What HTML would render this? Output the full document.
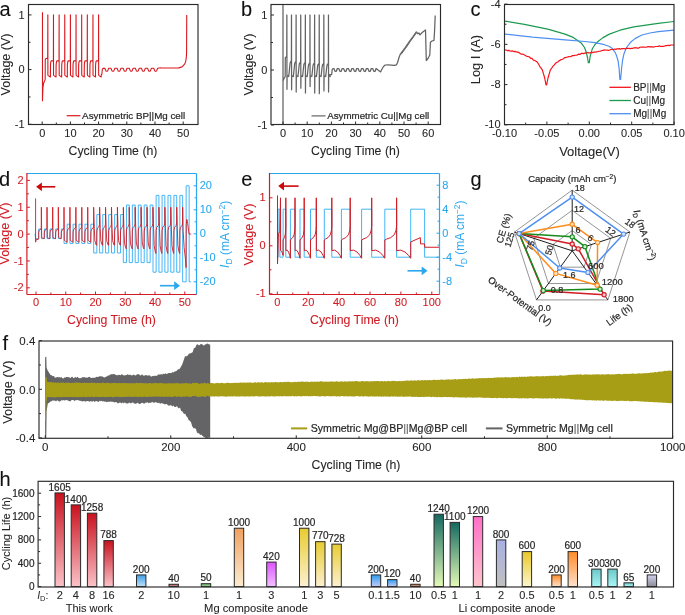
<!DOCTYPE html>
<html><head><meta charset="utf-8"><style>
html,body{margin:0;padding:0;background:#fff;}
body{width:685px;height:615px;overflow:hidden;}
svg{display:block;font-family:"Liberation Sans", sans-serif;will-change:transform;}
</style></head><body>
<svg width="685" height="615" viewBox="0 0 685 615">
<rect x="0" y="0" width="685" height="615" fill="#fff"/>
<path d="M42.48,12.16 L42.48,100.78 L42.91,87.65 L43.61,83.27 L44.74,80.54 L45.16,79.45 L45.25,60.3 L45.58,58.66 L47.7,58.11 L47.84,14.9 L47.9,75.07 L48.26,75.62 L50.38,76.98 L50.46,65.22 L50.72,62.49 L51.08,61.12 L51.65,60.85 L53.4,60.85 L53.48,14.9 L53.54,75.07 L53.9,75.62 L56.02,76.98 L56.1,65.22 L56.36,62.49 L56.72,61.12 L57.29,60.85 L59.04,60.85 L59.12,14.9 L59.18,75.07 L59.54,75.62 L61.66,76.98 L61.74,65.22 L62,62.49 L62.36,61.12 L62.93,60.85 L64.68,60.85 L64.76,14.9 L64.82,75.07 L65.18,75.62 L67.3,76.98 L67.38,65.22 L67.64,62.49 L68,61.12 L68.57,60.85 L70.32,60.85 L70.4,14.9 L70.46,75.07 L70.82,75.62 L72.94,76.98 L73.02,65.22 L73.28,62.49 L73.64,61.12 L74.21,60.85 L75.96,60.85 L76.04,14.9 L76.1,75.07 L76.46,75.62 L78.58,76.98 L78.66,65.22 L78.92,62.49 L79.28,61.12 L79.85,60.85 L81.6,60.85 L81.68,14.9 L81.74,75.07 L82.1,75.62 L84.22,76.98 L84.3,65.22 L84.56,62.49 L84.92,61.12 L85.49,60.85 L87.24,60.85 L87.32,14.9 L87.38,75.07 L87.74,75.62 L89.86,76.98 L89.94,65.22 L90.2,62.49 L90.56,61.12 L91.13,60.85 L92.88,60.85 L92.96,14.9 L93.02,75.07 L93.38,75.62 L95.5,76.98 L95.58,65.22 L95.84,62.49 L96.2,61.12 L96.77,60.85 L98.52,60.85 L98.6,14.9 L98.66,75.07 L99.02,75.62 L101.14,76.98 L101.3,74.6 L101.8,74.5 L102.3,69.5 L103,68.4 L104.8,68.3 L105.4,69.6 L105.9,70.9 L106.8,71.3 L107.7,70.9 L108.2,69.6 L108.8,68.3 L110.9,68.3 L111.5,69.6 L112,70.9 L112.9,71.3 L113.8,70.9 L114.3,69.6 L114.9,68.3 L117,68.3 L117.6,69.6 L118.1,70.9 L119,71.3 L119.9,70.9 L120.4,69.6 L121,68.3 L123.1,68.3 L123.7,69.6 L124.2,70.9 L125.1,71.3 L126,70.9 L126.5,69.6 L127.1,68.3 L129.2,68.3 L129.8,69.6 L130.3,70.9 L131.2,71.3 L132.1,70.9 L132.6,69.6 L133.2,68.3 L135.3,68.3 L135.9,69.6 L136.4,70.9 L137.3,71.3 L138.2,70.9 L138.7,69.6 L139.3,68.3 L141.4,68.3 L142,69.6 L142.5,70.9 L143.4,71.3 L144.3,70.9 L144.8,69.6 L145.4,68.3 L147.5,68.3 L148.1,69.6 L148.6,70.9 L149.5,71.3 L150.4,70.9 L150.9,69.6 L151.5,68.3 L153.7,68.3 L154.3,69.6 L154.8,70.9 L155.7,71.3 L156.6,70.9 L157.1,69.6 L157.7,68.3 L159.5,68 L160.6,67.9 L160.64,67.96 L166.28,67.96 L171.92,67.96 L178.69,67.85 L182.07,66.86 L184.61,64.13 L185.6,61.94 L186.3,57.57 L186.58,53.19 L186.73,14.9" fill="none" stroke="#d7191f" stroke-width="1.1" stroke-linejoin="round" />
<rect x="28.5" y="4.5" width="169.5" height="120" fill="none" stroke="#2a2a2a" stroke-width="1.15" />
<line x1="28.5" y1="124.3" x2="31.5" y2="124.3" stroke="#2a2a2a" stroke-width="1" />
<line x1="28.5" y1="96.95" x2="30.5" y2="96.95" stroke="#2a2a2a" stroke-width="1" />
<line x1="28.5" y1="69.6" x2="31.5" y2="69.6" stroke="#2a2a2a" stroke-width="1" />
<line x1="28.5" y1="42.25" x2="30.5" y2="42.25" stroke="#2a2a2a" stroke-width="1" />
<line x1="28.5" y1="14.9" x2="31.5" y2="14.9" stroke="#2a2a2a" stroke-width="1" />
<line x1="42.2" y1="124.5" x2="42.2" y2="121.5" stroke="#2a2a2a" stroke-width="1" />
<line x1="56.3" y1="124.5" x2="56.3" y2="122.5" stroke="#2a2a2a" stroke-width="1" />
<line x1="70.4" y1="124.5" x2="70.4" y2="121.5" stroke="#2a2a2a" stroke-width="1" />
<line x1="84.5" y1="124.5" x2="84.5" y2="122.5" stroke="#2a2a2a" stroke-width="1" />
<line x1="98.6" y1="124.5" x2="98.6" y2="121.5" stroke="#2a2a2a" stroke-width="1" />
<line x1="112.7" y1="124.5" x2="112.7" y2="122.5" stroke="#2a2a2a" stroke-width="1" />
<line x1="126.8" y1="124.5" x2="126.8" y2="121.5" stroke="#2a2a2a" stroke-width="1" />
<line x1="140.9" y1="124.5" x2="140.9" y2="122.5" stroke="#2a2a2a" stroke-width="1" />
<line x1="155" y1="124.5" x2="155" y2="121.5" stroke="#2a2a2a" stroke-width="1" />
<line x1="169.1" y1="124.5" x2="169.1" y2="122.5" stroke="#2a2a2a" stroke-width="1" />
<line x1="183.2" y1="124.5" x2="183.2" y2="121.5" stroke="#2a2a2a" stroke-width="1" />
<text x="24.6" y="18.5" font-size="11" text-anchor="end" fill="#262626" stroke="#262626" stroke-width="0.08" >1</text>
<text x="24.6" y="73.2" font-size="11" text-anchor="end" fill="#262626" stroke="#262626" stroke-width="0.08" >0</text>
<text x="24.6" y="127.9" font-size="11" text-anchor="end" fill="#262626" stroke="#262626" stroke-width="0.08" >-1</text>
<text x="42.2" y="137" font-size="11" text-anchor="middle" fill="#262626" stroke="#262626" stroke-width="0.08" >0</text>
<text x="70.4" y="137" font-size="11" text-anchor="middle" fill="#262626" stroke="#262626" stroke-width="0.08" >10</text>
<text x="98.6" y="137" font-size="11" text-anchor="middle" fill="#262626" stroke="#262626" stroke-width="0.08" >20</text>
<text x="126.8" y="137" font-size="11" text-anchor="middle" fill="#262626" stroke="#262626" stroke-width="0.08" >30</text>
<text x="155" y="137" font-size="11" text-anchor="middle" fill="#262626" stroke="#262626" stroke-width="0.08" >40</text>
<text x="183.2" y="137" font-size="11" text-anchor="middle" fill="#262626" stroke="#262626" stroke-width="0.08" >50</text>
<text x="113" y="155.3" font-size="12.3" text-anchor="middle" fill="#262626" stroke="#262626" stroke-width="0.08" >Cycling Time (h)</text>
<text x="9.8" y="64.5" font-size="12.5" text-anchor="middle" fill="#262626" stroke="#262626" stroke-width="0.08" transform="rotate(-90 9.8 64.5)" >Voltage (V)</text>
<line x1="66.7" y1="115.7" x2="80.4" y2="115.7" stroke="#d7191f" stroke-width="1.2" />
<text x="82.1" y="118.8" font-size="9.8" text-anchor="start" fill="#262626" stroke="#262626" stroke-width="0.2" >Asymmetric BP||Mg cell</text>
<text x="-0.5" y="16" font-size="20" text-anchor="start" fill="#111" stroke="#111" stroke-width="0.08" >a</text>
<clipPath id="cb"><rect x="271.0" y="4.5" width="169.5" height="120.0"/></clipPath>
<path d="M283,-1.5 L283,136 L283,81 L284.09,78.25 L285.18,76.6 L285.3,57.9 L286.15,56.8 L286.75,55.7 L286.87,15 L286.97,89.25 L287.11,75.5 L288.69,76.6 L289.41,70 L290.02,63.45 L290.5,62.05 L291.4,60.65 L291.49,15 L291.59,89.8 L291.74,75.5 L293.31,76.6 L294.04,70 L294.64,63.84 L295.12,62.52 L296.02,61.2 L296.12,15 L296.21,92 L296.36,75.5 L297.93,76.6 L298.66,70 L299.26,64.22 L299.75,62.99 L300.64,61.75 L300.74,15 L300.84,88.15 L300.98,75.5 L302.55,76.6 L303.28,70 L303.88,64.61 L304.37,63.45 L305.26,62.3 L305.36,15 L305.46,93.1 L305.6,75.5 L307.18,76.6 L307.9,70 L308.51,65 L308.99,63.92 L309.89,62.85 L309.98,15 L310.08,86.5 L310.23,75.5 L311.8,76.6 L312.52,70 L313.13,65 L313.61,63.92 L314.51,62.85 L314.61,15 L314.7,93.1 L314.85,75.5 L316.42,76.6 L317.15,70 L317.75,65.38 L318.24,64.39 L319.13,63.4 L319.23,15 L319.32,93.65 L319.47,75.5 L321.04,76.6 L321.77,70 L322.37,65.38 L322.86,64.39 L323.75,63.4 L323.85,15 L323.95,90.9 L324.09,75.5 L325.66,76.6 L326.39,70 L327,65.38 L327.48,64.39 L328.38,63.4 L328.47,15 L328.57,92 L328.71,75.5 L330.29,76.6 L329.46,74.67 L331.4,74.67 L331.7,74.4 L332.2,69.5 L333,68.6 L333.9,68.5 L334.5,70 L335,71.2 L335.9,71.5 L336.5,71 L336.9,69.5 L337.3,68.5 L338.75,68.5 L339.35,70 L339.85,71.2 L340.75,71.5 L341.35,71 L341.75,69.5 L342.15,68.5 L343.6,68.5 L344.2,70 L344.7,71.2 L345.6,71.5 L346.2,71 L346.6,69.5 L347,68.5 L348.45,68.5 L349.05,70 L349.55,71.2 L350.45,71.5 L351.05,71 L351.45,69.5 L351.85,68.5 L353.3,68.5 L353.9,70 L354.4,71.2 L355.3,71.5 L355.9,71 L356.3,69.5 L356.7,68.5 L358.15,68.5 L358.75,70 L359.25,71.2 L360.15,71.5 L360.75,71 L361.15,69.5 L361.55,68.5 L363,68.5 L363.6,70 L364.1,71.2 L365,71.5 L365.6,71 L366,69.5 L366.4,68.5 L367.85,68.5 L368.45,70 L368.95,71.2 L369.85,71.5 L370.45,71 L370.85,69.5 L371.25,68.5 L372.7,68.5 L373.3,70 L373.8,71.2 L374.7,71.5 L375.3,71 L375.7,69.5 L376.1,68.5 L380.6,71.9 L381.3,70.5 L382.2,68.7 L383.5,66.5 L385.2,65 L388,64.9 L394.4,65.4 L396.5,64.8 L397.6,62.5 L399,57.5 L400.5,53.8 L405,47.8 L410,40.5 L413,36.5 L416.3,31.8 L418,33.8 L419,33 L420,34.9 L422.5,32.3 L425.5,30 L426.3,60.5 L428,58.5 L429.8,55 L430.4,42.2 L432,41 L434,40.4 L434.6,30.6 L435.2,15.4" fill="none" stroke="#636363" stroke-width="1.25" stroke-linejoin="round" clip-path="url(#cb)"/>
<path d="M401,54.5 L405.5,48.5 L410.5,41.2 L416.5,32.8" fill="none" stroke="#636363" stroke-width="1.0" stroke-linejoin="round" clip-path="url(#cb)"/>
<rect x="271" y="4.5" width="169.5" height="120" fill="none" stroke="#2a2a2a" stroke-width="1.15" />
<line x1="271" y1="125" x2="274" y2="125" stroke="#2a2a2a" stroke-width="1" />
<line x1="271" y1="97.5" x2="273" y2="97.5" stroke="#2a2a2a" stroke-width="1" />
<line x1="271" y1="70" x2="274" y2="70" stroke="#2a2a2a" stroke-width="1" />
<line x1="271" y1="42.5" x2="273" y2="42.5" stroke="#2a2a2a" stroke-width="1" />
<line x1="271" y1="15" x2="274" y2="15" stroke="#2a2a2a" stroke-width="1" />
<line x1="283" y1="124.5" x2="283" y2="121.5" stroke="#2a2a2a" stroke-width="1" />
<line x1="295.1" y1="124.5" x2="295.1" y2="122.5" stroke="#2a2a2a" stroke-width="1" />
<line x1="307.2" y1="124.5" x2="307.2" y2="121.5" stroke="#2a2a2a" stroke-width="1" />
<line x1="319.3" y1="124.5" x2="319.3" y2="122.5" stroke="#2a2a2a" stroke-width="1" />
<line x1="331.4" y1="124.5" x2="331.4" y2="121.5" stroke="#2a2a2a" stroke-width="1" />
<line x1="343.5" y1="124.5" x2="343.5" y2="122.5" stroke="#2a2a2a" stroke-width="1" />
<line x1="355.6" y1="124.5" x2="355.6" y2="121.5" stroke="#2a2a2a" stroke-width="1" />
<line x1="367.7" y1="124.5" x2="367.7" y2="122.5" stroke="#2a2a2a" stroke-width="1" />
<line x1="379.8" y1="124.5" x2="379.8" y2="121.5" stroke="#2a2a2a" stroke-width="1" />
<line x1="391.9" y1="124.5" x2="391.9" y2="122.5" stroke="#2a2a2a" stroke-width="1" />
<line x1="404" y1="124.5" x2="404" y2="121.5" stroke="#2a2a2a" stroke-width="1" />
<line x1="416.1" y1="124.5" x2="416.1" y2="122.5" stroke="#2a2a2a" stroke-width="1" />
<line x1="428.2" y1="124.5" x2="428.2" y2="121.5" stroke="#2a2a2a" stroke-width="1" />
<text x="267.4" y="18.6" font-size="11" text-anchor="end" fill="#262626" stroke="#262626" stroke-width="0.08" >1</text>
<text x="267.4" y="73.6" font-size="11" text-anchor="end" fill="#262626" stroke="#262626" stroke-width="0.08" >0</text>
<text x="267.4" y="128.6" font-size="11" text-anchor="end" fill="#262626" stroke="#262626" stroke-width="0.08" >-1</text>
<text x="283" y="137" font-size="11" text-anchor="middle" fill="#262626" stroke="#262626" stroke-width="0.08" >0</text>
<text x="307.2" y="137" font-size="11" text-anchor="middle" fill="#262626" stroke="#262626" stroke-width="0.08" >10</text>
<text x="331.4" y="137" font-size="11" text-anchor="middle" fill="#262626" stroke="#262626" stroke-width="0.08" >20</text>
<text x="355.6" y="137" font-size="11" text-anchor="middle" fill="#262626" stroke="#262626" stroke-width="0.08" >30</text>
<text x="379.8" y="137" font-size="11" text-anchor="middle" fill="#262626" stroke="#262626" stroke-width="0.08" >40</text>
<text x="404" y="137" font-size="11" text-anchor="middle" fill="#262626" stroke="#262626" stroke-width="0.08" >50</text>
<text x="428.2" y="137" font-size="11" text-anchor="middle" fill="#262626" stroke="#262626" stroke-width="0.08" >60</text>
<text x="355.5" y="155.3" font-size="12.3" text-anchor="middle" fill="#262626" stroke="#262626" stroke-width="0.08" >Cycling Time (h)</text>
<text x="252.5" y="64.5" font-size="12.5" text-anchor="middle" fill="#262626" stroke="#262626" stroke-width="0.08" transform="rotate(-90 252.5 64.5)" >Voltage (V)</text>
<line x1="311.5" y1="115.9" x2="325.5" y2="115.9" stroke="#636363" stroke-width="1.2" />
<text x="327.2" y="119" font-size="9.75" text-anchor="start" fill="#262626" stroke="#262626" stroke-width="0.2" >Asymmetric Cu||Mg cell</text>
<text x="241" y="16" font-size="20" text-anchor="start" fill="#111" stroke="#111" stroke-width="0.08" >b</text>
<clipPath id="cc"><rect x="504.5" y="4.5" width="169.5" height="120.1"/></clipPath>
<path d="M504.9,21.1 L524.4,24.4 L548.8,29.3 L565,34.1 L573.2,37.4 L581.3,43.1 L584.5,47.5 L586.2,52 L587.6,58 L588.3,62.6 L589.3,62.6 L590.2,56.1 L592.3,48.8 L595,44.5 L598,41.5 L603,37.6 L609.4,34.1 L620,30.2 L633.8,26.8 L658.2,23.3 L674.1,21.5" fill="none" stroke="#1d9a4f" stroke-width="1.2" stroke-linejoin="round" clip-path="url(#cc)"/>
<path d="M504.9,34.1 L532.5,37.1 L565,39.8 L585,41.5 L594.8,42.6 L604.5,44.7 L609.5,46.5 L612.6,48.8 L615.2,52.5 L616.7,56.1 L618.2,61.5 L619.1,68.3 L619.9,79.5 L620.6,79.5 L621.6,68.3 L622.6,60 L624,53.7 L626.5,47.5 L630.5,42.3 L635,38.6 L641.9,35 L650,33 L658.2,31.7 L674.1,30.1" fill="none" stroke="#4f8ff2" stroke-width="1.2" stroke-linejoin="round" clip-path="url(#cc)"/>
<path d="M504.9,49.94 L506.17,50 L507.43,50.66 L508.7,50.35 L509.97,50.98 L511.23,51.03 L512.5,50.97 L513.77,51.58 L515.03,51.37 L516.3,51.94 L517.6,52.1 L518.9,52.61 L520.2,53.4 L521.5,54.25 L522.8,54.11 L524.1,54.69 L525.4,55.54 L526.7,56.32 L528,56.48 L529.3,56.81 L530.65,58.28 L532,58.39 L533.35,60.07 L534.7,60.51 L536.05,61.33 L537.4,62.26 L538.62,64.25 L539.85,66.53 L541.07,68.08 L542.3,69.9 L543.5,73.95 L544.7,78 L546,85 L546.6,85 L548,78 L550.4,69.9 L551.62,68.28 L552.85,66.36 L554.07,65.1 L555.3,63.53 L556.51,62.57 L557.72,62.02 L558.94,60.87 L560.15,60.15 L561.36,59.57 L562.58,59.29 L563.79,58.35 L565,57.53 L566.25,57.47 L567.51,57.04 L568.76,56.6 L570.02,56.73 L571.27,56.34 L572.52,55.62 L573.78,55.61 L575.03,55.26 L576.28,55.27 L577.54,54.83 L578.79,54.12 L580.05,54.44 L581.3,53.36 L582.55,53.47 L583.81,53.62 L585.06,52.93 L586.32,53.07 L587.57,52.52 L588.82,52.93 L590.08,52.86 L591.33,52.53 L592.58,52.65 L593.84,51.99 L595.09,52.18 L596.35,51.94 L597.6,51.77 L598.83,51.23 L600.07,51.14 L601.3,50.8 L602.5,50.29 L603.71,50.37 L604.91,49.74 L606.11,50.23 L607.32,50.09 L608.52,50.31 L609.73,50.07 L610.93,49.5 L612.13,49.5 L613.34,49.66 L614.54,48.99 L615.74,49.3 L616.95,48.95 L618.15,48.81 L619.36,48.67 L620.56,49.22 L621.76,48.56 L622.97,48.57 L624.17,48.61 L625.37,48.96 L626.58,48.16 L627.78,48.4 L628.99,48.4 L630.19,48.61 L631.39,48.47 L632.6,48.42 L633.8,47.8 L635.02,47.84 L636.24,47.7 L637.46,48.09 L638.68,48.07 L639.91,47.26 L641.13,47.2 L642.35,47.16 L643.57,47.08 L644.79,47.22 L646.01,47.23 L647.23,46.85 L648.45,46.54 L649.68,46.82 L650.9,46.69 L652.12,46.79 L653.34,47.05 L654.56,46.73 L655.78,46.49 L657,46.49 L658.22,46.46 L659.45,45.82 L660.67,46.49 L661.89,46.3 L663.11,46.3 L664.33,46.15 L665.55,45.7 L666.77,45.62 L667.99,45.27 L669.22,45.66 L670.44,45.06 L671.66,44.98 L672.88,45.02 L674.1,45.2" fill="none" stroke="#f5141a" stroke-width="1.2" stroke-linejoin="round" clip-path="url(#cc)"/>
<rect x="504.5" y="4.5" width="169.5" height="120.1" fill="none" stroke="#2a2a2a" stroke-width="1.15" />
<line x1="504.5" y1="4.1" x2="507.5" y2="4.1" stroke="#2a2a2a" stroke-width="1" />
<line x1="504.5" y1="24.22" x2="506.5" y2="24.22" stroke="#2a2a2a" stroke-width="1" />
<line x1="504.5" y1="44.34" x2="507.5" y2="44.34" stroke="#2a2a2a" stroke-width="1" />
<line x1="504.5" y1="64.46" x2="506.5" y2="64.46" stroke="#2a2a2a" stroke-width="1" />
<line x1="504.5" y1="84.58" x2="507.5" y2="84.58" stroke="#2a2a2a" stroke-width="1" />
<line x1="504.5" y1="104.7" x2="506.5" y2="104.7" stroke="#2a2a2a" stroke-width="1" />
<line x1="504.5" y1="124.82" x2="507.5" y2="124.82" stroke="#2a2a2a" stroke-width="1" />
<line x1="504.5" y1="124.6" x2="504.5" y2="121.6" stroke="#2a2a2a" stroke-width="1" />
<line x1="525.7" y1="124.6" x2="525.7" y2="122.6" stroke="#2a2a2a" stroke-width="1" />
<line x1="546.9" y1="124.6" x2="546.9" y2="121.6" stroke="#2a2a2a" stroke-width="1" />
<line x1="568.1" y1="124.6" x2="568.1" y2="122.6" stroke="#2a2a2a" stroke-width="1" />
<line x1="589.3" y1="124.6" x2="589.3" y2="121.6" stroke="#2a2a2a" stroke-width="1" />
<line x1="610.5" y1="124.6" x2="610.5" y2="122.6" stroke="#2a2a2a" stroke-width="1" />
<line x1="631.7" y1="124.6" x2="631.7" y2="121.6" stroke="#2a2a2a" stroke-width="1" />
<line x1="652.9" y1="124.6" x2="652.9" y2="122.6" stroke="#2a2a2a" stroke-width="1" />
<line x1="674.1" y1="124.6" x2="674.1" y2="121.6" stroke="#2a2a2a" stroke-width="1" />
<text x="500.6" y="7.7" font-size="11" text-anchor="end" fill="#262626" stroke="#262626" stroke-width="0.08" >-4</text>
<text x="500.6" y="47.94" font-size="11" text-anchor="end" fill="#262626" stroke="#262626" stroke-width="0.08" >-6</text>
<text x="500.6" y="88.18" font-size="11" text-anchor="end" fill="#262626" stroke="#262626" stroke-width="0.08" >-8</text>
<text x="500.6" y="128.42" font-size="11" text-anchor="end" fill="#262626" stroke="#262626" stroke-width="0.08" >-10</text>
<text x="504.5" y="137" font-size="11" text-anchor="middle" fill="#262626" stroke="#262626" stroke-width="0.08" >-0.10</text>
<text x="546.9" y="137" font-size="11" text-anchor="middle" fill="#262626" stroke="#262626" stroke-width="0.08" >-0.05</text>
<text x="589.3" y="137" font-size="11" text-anchor="middle" fill="#262626" stroke="#262626" stroke-width="0.08" >0.00</text>
<text x="631.7" y="137" font-size="11" text-anchor="middle" fill="#262626" stroke="#262626" stroke-width="0.08" >0.05</text>
<text x="674.1" y="137" font-size="11" text-anchor="middle" fill="#262626" stroke="#262626" stroke-width="0.08" >0.10</text>
<text x="589.5" y="155.6" font-size="13" text-anchor="middle" fill="#262626" stroke="#262626" stroke-width="0.08" >Voltage(V)</text>
<text x="480" y="59.6" font-size="12.8" text-anchor="middle" fill="#262626" stroke="#262626" stroke-width="0.08" transform="rotate(-90 480 59.6)" >Log I (A)</text>
<line x1="609.4" y1="87.3" x2="630.9" y2="87.3" stroke="#f5141a" stroke-width="1.3" />
<text x="633.2" y="90.9" font-size="10" text-anchor="start" fill="#262626" stroke="#262626" stroke-width="0.2" >BP<tspan fill="#8a8a8a">||</tspan>Mg</text>
<line x1="609.4" y1="100.5" x2="630.9" y2="100.5" stroke="#1d9a4f" stroke-width="1.3" />
<text x="633.2" y="104.1" font-size="10" text-anchor="start" fill="#262626" stroke="#262626" stroke-width="0.2" >Cu<tspan fill="#8a8a8a">||</tspan>Mg</text>
<line x1="609.4" y1="113.7" x2="630.9" y2="113.7" stroke="#4f8ff2" stroke-width="1.3" />
<text x="633.2" y="117.3" font-size="10" text-anchor="start" fill="#262626" stroke="#262626" stroke-width="0.2" >Mg<tspan fill="#8a8a8a">||</tspan>Mg</text>
<text x="470.5" y="16" font-size="20" text-anchor="start" fill="#111" stroke="#111" stroke-width="0.08" >c</text>
<clipPath id="cd"><rect x="26.9" y="173.5" width="169.6" height="121.0"/></clipPath>
<path d="M35,233.8 L35.7,238.6 L38.7,238.6 L38.7,229 L41.36,229 L41.36,238.6 L44.36,238.6 L44.36,229 L47.02,229 L47.02,238.6 L50.02,238.6 L50.02,229 L52.68,229 L52.68,238.6 L55.68,238.6 L55.68,229 L58.34,229 L58.34,238.6 L61.34,238.6 L61.34,229 L64,229 L64,243.4 L67.14,243.4 L67.14,224.2 L69.93,224.2 L69.93,243.4 L73.07,243.4 L73.07,224.2 L75.86,224.2 L75.86,243.4 L79,243.4 L79,224.2 L81.79,224.2 L81.79,243.4 L84.93,243.4 L84.93,224.2 L87.72,224.2 L87.72,243.4 L90.86,243.4 L90.86,224.2 L93.65,224.2 L93.7,253 L96.84,253 L96.84,214.6 L99.63,214.6 L99.63,253 L102.77,253 L102.77,214.6 L105.56,214.6 L105.56,253 L108.7,253 L108.7,214.6 L111.49,214.6 L111.49,253 L114.63,253 L114.63,214.6 L117.42,214.6 L117.42,253 L120.56,253 L120.56,214.6 L123.35,214.6 L123.3,262.6 L126.44,262.6 L126.44,205 L129.23,205 L129.23,262.6 L132.37,262.6 L132.37,205 L135.16,205 L135.16,262.6 L138.3,262.6 L138.3,205 L141.09,205 L141.09,262.6 L144.23,262.6 L144.23,205 L147.02,205 L147.02,262.6 L150.16,262.6 L150.16,205 L152.95,205 L153,272.2 L156.14,272.2 L156.14,195.4 L158.93,195.4 L158.93,272.2 L162.07,272.2 L162.07,195.4 L164.86,195.4 L164.86,272.2 L168,272.2 L168,195.4 L170.79,195.4 L170.79,272.2 L173.93,272.2 L173.93,195.4 L176.72,195.4 L176.72,272.2 L179.86,272.2 L179.86,195.4 L182.65,195.4 L182.65,281.8 L186.15,281.8 L186.15,185.8 L189.15,185.8 L189.15,281.8 L190.95,281.8" fill="none" stroke="#45b5f5" stroke-width="1.0" stroke-linejoin="round" clip-path="url(#cd)"/>
<path d="M35.6,198.39 L35.6,242.16 L36.2,239.47 L38.2,239.47 L38.7,238.93 L38.7,232.17 L39.3,230.23 L40.76,229.27 L41.26,227.82 L41.36,207.25 L41.66,237.52 L42.86,238.21 L44.16,238.66 L44.36,232.17 L44.96,230.23 L46.42,229.27 L46.92,227.82 L47.02,207.25 L47.32,237.52 L48.52,238.21 L49.82,238.66 L50.02,232.17 L50.62,230.23 L52.08,229.27 L52.58,227.82 L52.68,207.25 L52.98,237.52 L54.18,238.21 L55.48,238.66 L55.68,232.17 L56.28,230.23 L57.74,229.27 L58.24,227.82 L58.34,207.25 L58.64,237.52 L59.84,238.21 L61.14,238.66 L61.34,232.17 L61.94,230.23 L63.4,229.27 L63.9,227.82 L64,207.25 L64.3,240.14 L65.5,241.35 L66.94,242.16 L67.14,231.74 L67.74,229.37 L69.33,228.19 L69.83,226.42 L69.93,207.25 L70.23,240.14 L71.43,241.35 L72.87,242.16 L73.07,231.74 L73.67,229.37 L75.26,228.19 L75.76,226.42 L75.86,207.25 L76.16,240.14 L77.36,241.35 L78.8,242.16 L79,231.74 L79.6,229.37 L81.19,228.19 L81.69,226.42 L81.79,207.25 L82.09,240.14 L83.29,241.35 L84.73,242.16 L84.93,231.74 L85.53,229.37 L87.12,228.19 L87.62,226.42 L87.72,207.25 L88.02,240.14 L89.22,241.35 L90.66,242.16 L90.86,231.74 L91.46,229.37 L93.05,228.19 L93.55,226.42 L93.65,207.25 L94.3,228.73 L94.9,240.87 L95.9,244.25 L96.64,245.38 L96.84,231.09 L97.44,228.09 L99.03,226.58 L99.53,224.33 L99.63,207.25 L100.23,228.73 L100.83,240.87 L101.83,244.25 L102.57,245.38 L102.77,231.09 L103.37,228.09 L104.96,226.58 L105.46,224.33 L105.56,207.25 L106.16,228.73 L106.76,240.87 L107.76,244.25 L108.5,245.38 L108.7,231.09 L109.3,228.09 L110.89,226.58 L111.39,224.33 L111.49,207.25 L112.09,228.73 L112.69,240.87 L113.69,244.25 L114.43,245.38 L114.63,231.09 L115.23,228.09 L116.82,226.58 L117.32,224.33 L117.42,207.25 L118.02,228.73 L118.62,240.87 L119.62,244.25 L120.36,245.38 L120.56,231.09 L121.16,228.09 L122.75,226.58 L123.25,224.33 L123.35,207.25 L123.9,228.73 L124.5,242.96 L125.5,247.39 L126.24,248.87 L126.44,230.88 L127.04,227.66 L128.63,226.04 L129.13,223.63 L129.23,207.25 L129.83,228.73 L130.43,242.96 L131.43,247.39 L132.17,248.87 L132.37,230.88 L132.97,227.66 L134.56,226.04 L135.06,223.63 L135.16,207.25 L135.76,228.73 L136.36,242.96 L137.36,247.39 L138.1,248.87 L138.3,230.88 L138.9,227.66 L140.49,226.04 L140.99,223.63 L141.09,207.25 L141.69,228.73 L142.29,242.96 L143.29,247.39 L144.03,248.87 L144.23,230.88 L144.83,227.66 L146.42,226.04 L146.92,223.63 L147.02,207.25 L147.62,228.73 L148.22,242.96 L149.22,247.39 L149.96,248.87 L150.16,230.88 L150.76,227.66 L152.35,226.04 L152.85,223.63 L152.95,207.25 L153.6,228.73 L154.2,245.7 L155.2,251.5 L155.94,253.43 L156.14,230.66 L156.74,227.23 L158.33,225.51 L158.83,222.93 L158.93,207.25 L159.53,228.73 L160.13,245.7 L161.13,251.5 L161.87,253.43 L162.07,230.66 L162.67,227.23 L164.26,225.51 L164.76,222.93 L164.86,207.25 L165.46,228.73 L166.06,245.7 L167.06,251.5 L167.8,253.43 L168,230.66 L168.6,227.23 L170.19,225.51 L170.69,222.93 L170.79,207.25 L171.39,228.73 L171.99,245.7 L172.99,251.5 L173.73,253.43 L173.93,230.66 L174.53,227.23 L176.12,225.51 L176.62,222.93 L176.72,207.25 L177.32,228.73 L177.92,245.7 L178.92,251.5 L179.66,253.43 L179.86,230.66 L180.46,227.23 L182.05,225.51 L182.55,222.93 L182.65,207.25 L183.15,231.41 L184.15,247.53 L185.65,260.95 L186.05,267.66 L186.25,224.7 L186.85,219.33 L187.65,223.36 L188.65,231.41 L189.15,234.1 L191.15,234.1" fill="none" stroke="#d01c24" stroke-width="0.9" stroke-linejoin="round" clip-path="url(#cd)"/>
<line x1="26.9" y1="173.5" x2="196.5" y2="173.5" stroke="#2aa7ee" stroke-width="1.2" />
<line x1="196.5" y1="173.5" x2="196.5" y2="294.5" stroke="#2aa7ee" stroke-width="1.2" />
<line x1="26.9" y1="172.9" x2="26.9" y2="294.5" stroke="#d01c24" stroke-width="1.2" />
<line x1="26.9" y1="294.5" x2="196.5" y2="294.5" stroke="#d01c24" stroke-width="1.2" />
<line x1="26.9" y1="287.8" x2="29.9" y2="287.8" stroke="#d01c24" stroke-width="1" />
<line x1="26.9" y1="274.38" x2="28.9" y2="274.38" stroke="#d01c24" stroke-width="1" />
<line x1="26.9" y1="260.95" x2="29.9" y2="260.95" stroke="#d01c24" stroke-width="1" />
<line x1="26.9" y1="247.53" x2="28.9" y2="247.53" stroke="#d01c24" stroke-width="1" />
<line x1="26.9" y1="234.1" x2="29.9" y2="234.1" stroke="#d01c24" stroke-width="1" />
<line x1="26.9" y1="220.67" x2="28.9" y2="220.67" stroke="#d01c24" stroke-width="1" />
<line x1="26.9" y1="207.25" x2="29.9" y2="207.25" stroke="#d01c24" stroke-width="1" />
<line x1="26.9" y1="193.82" x2="28.9" y2="193.82" stroke="#d01c24" stroke-width="1" />
<line x1="26.9" y1="180.4" x2="29.9" y2="180.4" stroke="#d01c24" stroke-width="1" />
<line x1="36" y1="294.5" x2="36" y2="291.5" stroke="#d01c24" stroke-width="1" />
<line x1="50.88" y1="294.5" x2="50.88" y2="292.5" stroke="#d01c24" stroke-width="1" />
<line x1="65.75" y1="294.5" x2="65.75" y2="291.5" stroke="#d01c24" stroke-width="1" />
<line x1="80.62" y1="294.5" x2="80.62" y2="292.5" stroke="#d01c24" stroke-width="1" />
<line x1="95.5" y1="294.5" x2="95.5" y2="291.5" stroke="#d01c24" stroke-width="1" />
<line x1="110.38" y1="294.5" x2="110.38" y2="292.5" stroke="#d01c24" stroke-width="1" />
<line x1="125.25" y1="294.5" x2="125.25" y2="291.5" stroke="#d01c24" stroke-width="1" />
<line x1="140.12" y1="294.5" x2="140.12" y2="292.5" stroke="#d01c24" stroke-width="1" />
<line x1="155" y1="294.5" x2="155" y2="291.5" stroke="#d01c24" stroke-width="1" />
<line x1="169.88" y1="294.5" x2="169.88" y2="292.5" stroke="#d01c24" stroke-width="1" />
<line x1="184.75" y1="294.5" x2="184.75" y2="291.5" stroke="#d01c24" stroke-width="1" />
<line x1="196.5" y1="281.8" x2="193.5" y2="281.8" stroke="#2aa7ee" stroke-width="1" />
<line x1="196.5" y1="269.8" x2="194.5" y2="269.8" stroke="#2aa7ee" stroke-width="1" />
<line x1="196.5" y1="257.8" x2="193.5" y2="257.8" stroke="#2aa7ee" stroke-width="1" />
<line x1="196.5" y1="245.8" x2="194.5" y2="245.8" stroke="#2aa7ee" stroke-width="1" />
<line x1="196.5" y1="233.8" x2="193.5" y2="233.8" stroke="#2aa7ee" stroke-width="1" />
<line x1="196.5" y1="221.8" x2="194.5" y2="221.8" stroke="#2aa7ee" stroke-width="1" />
<line x1="196.5" y1="209.8" x2="193.5" y2="209.8" stroke="#2aa7ee" stroke-width="1" />
<line x1="196.5" y1="197.8" x2="194.5" y2="197.8" stroke="#2aa7ee" stroke-width="1" />
<line x1="196.5" y1="185.8" x2="193.5" y2="185.8" stroke="#2aa7ee" stroke-width="1" />
<text x="23.6" y="184" font-size="11" text-anchor="end" fill="#d01c24" stroke="#d01c24" stroke-width="0.08" >2</text>
<text x="23.6" y="210.85" font-size="11" text-anchor="end" fill="#d01c24" stroke="#d01c24" stroke-width="0.08" >1</text>
<text x="23.6" y="237.7" font-size="11" text-anchor="end" fill="#d01c24" stroke="#d01c24" stroke-width="0.08" >0</text>
<text x="23.6" y="264.55" font-size="11" text-anchor="end" fill="#d01c24" stroke="#d01c24" stroke-width="0.08" >-1</text>
<text x="23.6" y="291.4" font-size="11" text-anchor="end" fill="#d01c24" stroke="#d01c24" stroke-width="0.08" >-2</text>
<text x="36" y="305.7" font-size="11" text-anchor="middle" fill="#d01c24" stroke="#d01c24" stroke-width="0.08" >0</text>
<text x="65.75" y="305.7" font-size="11" text-anchor="middle" fill="#d01c24" stroke="#d01c24" stroke-width="0.08" >10</text>
<text x="95.5" y="305.7" font-size="11" text-anchor="middle" fill="#d01c24" stroke="#d01c24" stroke-width="0.08" >20</text>
<text x="125.25" y="305.7" font-size="11" text-anchor="middle" fill="#d01c24" stroke="#d01c24" stroke-width="0.08" >30</text>
<text x="155" y="305.7" font-size="11" text-anchor="middle" fill="#d01c24" stroke="#d01c24" stroke-width="0.08" >40</text>
<text x="184.75" y="305.7" font-size="11" text-anchor="middle" fill="#d01c24" stroke="#d01c24" stroke-width="0.08" >50</text>
<text x="199.7" y="189.4" font-size="11" text-anchor="start" fill="#2aa7ee" stroke="#2aa7ee" stroke-width="0.08" >20</text>
<text x="199.7" y="213.4" font-size="11" text-anchor="start" fill="#2aa7ee" stroke="#2aa7ee" stroke-width="0.08" >10</text>
<text x="199.7" y="237.4" font-size="11" text-anchor="start" fill="#2aa7ee" stroke="#2aa7ee" stroke-width="0.08" >0</text>
<text x="199.7" y="261.4" font-size="11" text-anchor="start" fill="#2aa7ee" stroke="#2aa7ee" stroke-width="0.08" >-10</text>
<text x="199.7" y="285.4" font-size="11" text-anchor="start" fill="#2aa7ee" stroke="#2aa7ee" stroke-width="0.08" >-20</text>
<text x="111.5" y="324.3" font-size="12.3" text-anchor="middle" fill="#d01c24" stroke="#d01c24" stroke-width="0.08" >Cycling Time (h)</text>
<text x="9.2" y="233.6" font-size="12.5" text-anchor="middle" fill="#d01c24" stroke="#d01c24" stroke-width="0.08" transform="rotate(-90 9.2 233.6)" >Voltage (V)</text>
<text transform="translate(229.3 234.3) rotate(-90)" font-size="12" text-anchor="middle" fill="#2aa7ee"><tspan font-style="italic">I</tspan><tspan font-size="8.5" dy="2.5">D</tspan><tspan dy="-2.5"> (mA cm</tspan><tspan font-size="8.5" dy="-4.5">−2</tspan><tspan dy="4.5">)</tspan></text>
<line x1="41" y1="186.8" x2="55.3" y2="186.8" stroke="#cc0a0a" stroke-width="1.6" />
<path d="M36.1,186.8 L41.9,182.4 L41.9,191.2Z" fill="#cc0a0a" stroke="none" />
<line x1="160" y1="285.7" x2="175" y2="285.7" stroke="#2aa7ee" stroke-width="1.6" />
<path d="M180,285.7 L174.2,281.3 L174.2,290.1Z" fill="#2aa7ee" stroke="none" />
<text x="-1" y="185.5" font-size="20" text-anchor="start" fill="#111" stroke="#111" stroke-width="0.08" >d</text>
<clipPath id="ce"><rect x="269.5" y="173.5" width="170.0" height="121.0"/></clipPath>
<path d="M276.8,257.2 L278.1,257.2 L278.1,209.2 L279.9,209.2 L279.9,257.2 L283.1,257.2 L283.1,209.2 L285.8,209.2 L285.8,257.2 L290.4,257.2 L290.4,209.2 L295,209.2 L295,257.2 L300,257.2 L300,209.2 L304.2,209.2 L304.2,257.2 L310.5,257.2 L310.5,209.2 L316.3,209.2 L316.3,257.2 L324.3,257.2 L324.3,209.2 L331.8,209.2 L331.8,257.2 L341.4,257.2 L341.4,209.2 L350.2,209.2 L350.2,257.2 L361.6,257.2 L361.6,209.2 L371.7,209.2 L371.7,257.2 L384.8,257.2 L384.8,209.2 L396.6,209.2 L396.6,257.2 L410.7,257.2 L410.7,209.2 L424.6,209.2 L424.6,257.2 L439.5,257.2" fill="none" stroke="#45b5f5" stroke-width="1.0" stroke-linejoin="round" clip-path="url(#ce)"/>
<path d="M277.5,195.4 L277.5,264.04 L277.8,255.4 L278.1,243.4 L278.4,233.8 L279.9,231.4 L280.5,197.8 L280.6,250.6 L281.8,251.56 L283.1,255.4 L283.1,240.04 L283.5,239.08 L284.45,237.64 L285.26,234.76 L285.67,230.44 L285.8,225.64 L285.8,197.8 L285.9,250.6 L287.18,250.12 L288.56,252.04 L289.71,255.4 L290.4,258.28 L290.4,240.04 L291.09,239.08 L292.7,237.64 L294.08,234.76 L294.77,230.44 L295,225.64 L295,197.8 L295.1,250.6 L296.5,250.12 L298,252.04 L299.25,255.4 L300,258.28 L300,240.04 L300.63,239.08 L302.1,237.64 L303.36,234.76 L303.99,230.44 L304.2,225.64 L304.2,197.8 L304.3,250.6 L306.09,250.12 L307.98,252.04 L309.56,255.4 L310.5,258.28 L310.5,240.04 L311.37,239.08 L313.4,237.64 L315.14,234.76 L316.01,230.44 L316.3,225.64 L316.3,197.8 L316.4,250.6 L318.7,250.12 L321.1,252.04 L323.1,255.4 L324.3,258.28 L324.3,240.04 L325.43,239.08 L328.05,237.64 L330.3,234.76 L331.43,230.44 L331.8,225.64 L331.8,197.8 L331.9,250.6 L334.68,250.12 L337.56,252.04 L339.96,255.4 L341.4,258.28 L341.4,240.04 L342.72,239.08 L345.8,237.64 L348.44,234.76 L349.76,230.44 L350.2,225.64 L350.2,197.8 L350.3,250.6 L353.62,250.12 L357.04,252.04 L359.89,255.4 L361.6,258.28 L361.6,240.04 L363.12,239.08 L366.65,237.64 L369.68,234.76 L371.19,230.44 L371.7,225.64 L371.7,197.8 L371.8,250.6 L375.63,250.12 L379.56,252.04 L382.84,255.4 L384.8,258.28 L384.8,240.04 L386.57,239.08 L390.7,237.64 L394.24,234.76 L396.01,230.44 L396.6,225.64 L396.6,197.8 L396.7,250.6 L400.83,250.12 L405.06,252.04 L408.58,255.4 L410.7,258.28 L410.7,241.96 L420.3,237.64 L420.5,243.88 L424.6,243.88 L424.7,247.24 L439.5,247.24" fill="none" stroke="#d01c24" stroke-width="1.0" stroke-linejoin="round" clip-path="url(#ce)"/>
<line x1="269.5" y1="173.5" x2="439.5" y2="173.5" stroke="#2aa7ee" stroke-width="1.2" />
<line x1="439.5" y1="173.5" x2="439.5" y2="294.5" stroke="#2aa7ee" stroke-width="1.2" />
<line x1="269.5" y1="172.9" x2="269.5" y2="294.5" stroke="#d01c24" stroke-width="1.2" />
<line x1="269.5" y1="294.5" x2="439.5" y2="294.5" stroke="#d01c24" stroke-width="1.2" />
<line x1="269.5" y1="293.8" x2="272.5" y2="293.8" stroke="#d01c24" stroke-width="1" />
<line x1="269.5" y1="269.8" x2="271.5" y2="269.8" stroke="#d01c24" stroke-width="1" />
<line x1="269.5" y1="245.8" x2="272.5" y2="245.8" stroke="#d01c24" stroke-width="1" />
<line x1="269.5" y1="221.8" x2="271.5" y2="221.8" stroke="#d01c24" stroke-width="1" />
<line x1="269.5" y1="197.8" x2="272.5" y2="197.8" stroke="#d01c24" stroke-width="1" />
<line x1="277.3" y1="294.5" x2="277.3" y2="291.5" stroke="#d01c24" stroke-width="1" />
<line x1="292.75" y1="294.5" x2="292.75" y2="292.5" stroke="#d01c24" stroke-width="1" />
<line x1="308.2" y1="294.5" x2="308.2" y2="291.5" stroke="#d01c24" stroke-width="1" />
<line x1="323.65" y1="294.5" x2="323.65" y2="292.5" stroke="#d01c24" stroke-width="1" />
<line x1="339.1" y1="294.5" x2="339.1" y2="291.5" stroke="#d01c24" stroke-width="1" />
<line x1="354.55" y1="294.5" x2="354.55" y2="292.5" stroke="#d01c24" stroke-width="1" />
<line x1="370" y1="294.5" x2="370" y2="291.5" stroke="#d01c24" stroke-width="1" />
<line x1="385.45" y1="294.5" x2="385.45" y2="292.5" stroke="#d01c24" stroke-width="1" />
<line x1="400.9" y1="294.5" x2="400.9" y2="291.5" stroke="#d01c24" stroke-width="1" />
<line x1="416.35" y1="294.5" x2="416.35" y2="292.5" stroke="#d01c24" stroke-width="1" />
<line x1="431.8" y1="294.5" x2="431.8" y2="291.5" stroke="#d01c24" stroke-width="1" />
<line x1="439.5" y1="281.2" x2="436.5" y2="281.2" stroke="#2aa7ee" stroke-width="1" />
<line x1="439.5" y1="269.2" x2="437.5" y2="269.2" stroke="#2aa7ee" stroke-width="1" />
<line x1="439.5" y1="257.2" x2="436.5" y2="257.2" stroke="#2aa7ee" stroke-width="1" />
<line x1="439.5" y1="245.2" x2="437.5" y2="245.2" stroke="#2aa7ee" stroke-width="1" />
<line x1="439.5" y1="233.2" x2="436.5" y2="233.2" stroke="#2aa7ee" stroke-width="1" />
<line x1="439.5" y1="221.2" x2="437.5" y2="221.2" stroke="#2aa7ee" stroke-width="1" />
<line x1="439.5" y1="209.2" x2="436.5" y2="209.2" stroke="#2aa7ee" stroke-width="1" />
<line x1="439.5" y1="197.2" x2="437.5" y2="197.2" stroke="#2aa7ee" stroke-width="1" />
<line x1="439.5" y1="185.2" x2="436.5" y2="185.2" stroke="#2aa7ee" stroke-width="1" />
<text x="265.7" y="201.4" font-size="11" text-anchor="end" fill="#d01c24" stroke="#d01c24" stroke-width="0.08" >1</text>
<text x="265.7" y="249.4" font-size="11" text-anchor="end" fill="#d01c24" stroke="#d01c24" stroke-width="0.08" >0</text>
<text x="265.7" y="297.4" font-size="11" text-anchor="end" fill="#d01c24" stroke="#d01c24" stroke-width="0.08" >-1</text>
<text x="277.3" y="305.7" font-size="11" text-anchor="middle" fill="#d01c24" stroke="#d01c24" stroke-width="0.08" >0</text>
<text x="308.2" y="305.7" font-size="11" text-anchor="middle" fill="#d01c24" stroke="#d01c24" stroke-width="0.08" >20</text>
<text x="339.1" y="305.7" font-size="11" text-anchor="middle" fill="#d01c24" stroke="#d01c24" stroke-width="0.08" >40</text>
<text x="370" y="305.7" font-size="11" text-anchor="middle" fill="#d01c24" stroke="#d01c24" stroke-width="0.08" >60</text>
<text x="400.9" y="305.7" font-size="11" text-anchor="middle" fill="#d01c24" stroke="#d01c24" stroke-width="0.08" >80</text>
<text x="431.8" y="305.7" font-size="11" text-anchor="middle" fill="#d01c24" stroke="#d01c24" stroke-width="0.08" >100</text>
<text x="442.3" y="188.8" font-size="11" text-anchor="start" fill="#2aa7ee" stroke="#2aa7ee" stroke-width="0.08" >8</text>
<text x="442.3" y="212.8" font-size="11" text-anchor="start" fill="#2aa7ee" stroke="#2aa7ee" stroke-width="0.08" >4</text>
<text x="442.3" y="236.8" font-size="11" text-anchor="start" fill="#2aa7ee" stroke="#2aa7ee" stroke-width="0.08" >0</text>
<text x="442.3" y="260.8" font-size="11" text-anchor="start" fill="#2aa7ee" stroke="#2aa7ee" stroke-width="0.08" >-4</text>
<text x="442.3" y="284.8" font-size="11" text-anchor="start" fill="#2aa7ee" stroke="#2aa7ee" stroke-width="0.08" >-8</text>
<text x="354.5" y="324.3" font-size="12.3" text-anchor="middle" fill="#d01c24" stroke="#d01c24" stroke-width="0.08" >Cycling Time (h)</text>
<text x="253.5" y="234.6" font-size="12.5" text-anchor="middle" fill="#d01c24" stroke="#d01c24" stroke-width="0.08" transform="rotate(-90 253.5 234.6)" >Voltage (V)</text>
<text transform="translate(464.2 234.0) rotate(-90)" font-size="12" text-anchor="middle" fill="#2aa7ee"><tspan font-style="italic">I</tspan><tspan font-size="8.5" dy="2.5">D</tspan><tspan dy="-2.5"> (mA cm</tspan><tspan font-size="8.5" dy="-4.5">−2</tspan><tspan dy="4.5">)</tspan></text>
<line x1="283" y1="186.1" x2="298.6" y2="186.1" stroke="#cc0a0a" stroke-width="1.6" />
<path d="M278.2,186.1 L284,181.7 L284,190.5Z" fill="#cc0a0a" stroke="none" />
<line x1="407.5" y1="270.8" x2="422.5" y2="270.8" stroke="#2aa7ee" stroke-width="1.6" />
<path d="M427.5,270.8 L421.7,266.4 L421.7,275.2Z" fill="#2aa7ee" stroke="none" />
<text x="241.3" y="185.5" font-size="20" text-anchor="start" fill="#111" stroke="#111" stroke-width="0.08" >e</text>
<path d="M572.2,230.57 L591.44,244.55 L584.09,267.17 L560.31,267.17 L552.96,244.55Z" fill="none" stroke="#7a7a7a" stroke-width="0.8"/>
<path d="M572.2,210.33 L610.69,238.3 L595.99,283.54 L548.41,283.54 L533.71,238.3Z" fill="none" stroke="#7a7a7a" stroke-width="0.8"/>
<path d="M572.2,190.1 L629.93,232.04 L607.88,299.91 L536.52,299.91 L514.47,232.04Z" fill="none" stroke="#7a7a7a" stroke-width="0.8"/>
<line x1="572.2" y1="250.8" x2="572.2" y2="190.1" stroke="#1e1e1e" stroke-width="1.0" />
<line x1="572.2" y1="250.8" x2="629.93" y2="232.04" stroke="#1e1e1e" stroke-width="1.0" />
<line x1="572.2" y1="250.8" x2="607.88" y2="299.91" stroke="#1e1e1e" stroke-width="1.0" />
<line x1="572.2" y1="250.8" x2="536.52" y2="299.91" stroke="#1e1e1e" stroke-width="1.0" />
<line x1="572.2" y1="250.8" x2="514.47" y2="232.04" stroke="#1e1e1e" stroke-width="1.0" />
<path d="M572.2,244 L578.26,248.83 L604.13,294.75 L542.94,291.07 L519.09,233.54Z" fill="none" stroke="#d01c24" stroke-width="1.5" stroke-linejoin="round"/>
<path d="M572.2,236.84 L584.9,246.67 L600.03,289.1 L543.3,290.58 L519.09,233.54Z" fill="none" stroke="#138a1a" stroke-width="1.5" stroke-linejoin="round"/>
<path d="M572.2,224.27 L597.6,242.55 L597.17,285.18 L555.79,273.39 L519.09,233.54Z" fill="none" stroke="#ff8c1a" stroke-width="1.5" stroke-linejoin="round"/>
<path d="M572.2,197.08 L623.58,234.11 L587.9,272.41 L559.71,267.99 L519.09,233.54Z" fill="none" stroke="#4f8ff2" stroke-width="1.5" stroke-linejoin="round"/>
<circle cx="572.2" cy="244" r="2.1" fill="#f8cccc" stroke="#d01c24" stroke-width="1.1"/>
<circle cx="578.26" cy="248.83" r="2.1" fill="#f8cccc" stroke="#d01c24" stroke-width="1.1"/>
<circle cx="604.13" cy="294.75" r="2.1" fill="#f8cccc" stroke="#d01c24" stroke-width="1.1"/>
<circle cx="542.94" cy="291.07" r="2.1" fill="#f8cccc" stroke="#d01c24" stroke-width="1.1"/>
<circle cx="519.09" cy="233.54" r="2.1" fill="#f8cccc" stroke="#d01c24" stroke-width="1.1"/>
<circle cx="572.2" cy="236.84" r="2.1" fill="#c8ecc8" stroke="#138a1a" stroke-width="1.1"/>
<circle cx="584.9" cy="246.67" r="2.1" fill="#c8ecc8" stroke="#138a1a" stroke-width="1.1"/>
<circle cx="600.03" cy="289.1" r="2.1" fill="#c8ecc8" stroke="#138a1a" stroke-width="1.1"/>
<circle cx="543.3" cy="290.58" r="2.1" fill="#c8ecc8" stroke="#138a1a" stroke-width="1.1"/>
<circle cx="519.09" cy="233.54" r="2.1" fill="#c8ecc8" stroke="#138a1a" stroke-width="1.1"/>
<circle cx="572.2" cy="224.27" r="2.1" fill="#ffe4c8" stroke="#ff8c1a" stroke-width="1.1"/>
<circle cx="597.6" cy="242.55" r="2.1" fill="#ffe4c8" stroke="#ff8c1a" stroke-width="1.1"/>
<circle cx="597.17" cy="285.18" r="2.1" fill="#ffe4c8" stroke="#ff8c1a" stroke-width="1.1"/>
<circle cx="555.79" cy="273.39" r="2.1" fill="#ffe4c8" stroke="#ff8c1a" stroke-width="1.1"/>
<circle cx="519.09" cy="233.54" r="2.1" fill="#ffe4c8" stroke="#ff8c1a" stroke-width="1.1"/>
<circle cx="572.2" cy="197.08" r="2.1" fill="#d8e6fd" stroke="#4f8ff2" stroke-width="1.1"/>
<circle cx="623.58" cy="234.11" r="2.1" fill="#d8e6fd" stroke="#4f8ff2" stroke-width="1.1"/>
<circle cx="587.9" cy="272.41" r="2.1" fill="#d8e6fd" stroke="#4f8ff2" stroke-width="1.1"/>
<circle cx="559.71" cy="267.99" r="2.1" fill="#d8e6fd" stroke="#4f8ff2" stroke-width="1.1"/>
<circle cx="519.09" cy="233.54" r="2.1" fill="#d8e6fd" stroke="#4f8ff2" stroke-width="1.1"/>
<text transform="translate(572.3 178.8) rotate(0)" dy="0.35em" font-size="9.5" text-anchor="middle" fill="#262626" stroke="#262626" stroke-width="0.2">Capacity (mAh cm<tspan font-size="6.5" dy="-3.5">−2</tspan><tspan dy="3.5">)</tspan></text>
<text transform="translate(579.8 188) rotate(0)" dy="0.35em" font-size="9" text-anchor="middle" fill="#262626" stroke="#262626" stroke-width="0.2">18</text>
<text transform="translate(579 208.9) rotate(0)" dy="0.35em" font-size="9" text-anchor="middle" fill="#262626" stroke="#262626" stroke-width="0.2">12</text>
<text transform="translate(578 230) rotate(0)" dy="0.35em" font-size="9" text-anchor="middle" fill="#262626" stroke="#262626" stroke-width="0.2">6</text>
<text transform="translate(630.2 223.3) rotate(36)" dy="0.35em" font-size="9" text-anchor="middle" fill="#262626" stroke="#262626" stroke-width="0.2">18</text>
<text transform="translate(610.6 231.5) rotate(36)" dy="0.35em" font-size="9" text-anchor="middle" fill="#262626" stroke="#262626" stroke-width="0.2">12</text>
<text transform="translate(590.7 237.9) rotate(36)" dy="0.35em" font-size="9" text-anchor="middle" fill="#262626" stroke="#262626" stroke-width="0.2">6</text>
<text transform="translate(644.8 235) rotate(72)" dy="0.35em" font-size="9.5" text-anchor="middle" fill="#262626" stroke="#262626" stroke-width="0.2"><tspan font-style="italic">I</tspan><tspan font-size="6.5" dy="2">D</tspan><tspan dy="-2"> (mA cm</tspan><tspan font-size="6.5" dy="-3.5">−2</tspan><tspan dy="3.5">)</tspan></text>
<text transform="translate(595.8 265.4) rotate(0)" dy="0.35em" font-size="9.5" text-anchor="middle" fill="#262626" stroke="#262626" stroke-width="0.2">600</text>
<text transform="translate(601.7 281.7) rotate(0)" dy="0.35em" font-size="9.5" text-anchor="start" fill="#262626" stroke="#262626" stroke-width="0.2">1200</text>
<text transform="translate(612.7 298.6) rotate(0)" dy="0.35em" font-size="9.5" text-anchor="start" fill="#262626" stroke="#262626" stroke-width="0.2">1800</text>
<text transform="translate(619.2 314.8) rotate(-36)" dy="0.35em" font-size="9.5" text-anchor="middle" fill="#262626" stroke="#262626" stroke-width="0.2">Life (h)</text>
<text transform="translate(569.3 275) rotate(0)" dy="0.35em" font-size="9" text-anchor="middle" fill="#262626" stroke="#262626" stroke-width="0.2">1.6</text>
<text transform="translate(557 289.6) rotate(0)" dy="0.35em" font-size="9" text-anchor="middle" fill="#262626" stroke="#262626" stroke-width="0.2">0.8</text>
<text transform="translate(544.6 307.8) rotate(0)" dy="0.35em" font-size="9" text-anchor="middle" fill="#262626" stroke="#262626" stroke-width="0.2">0.0</text>
<text transform="translate(520 301) rotate(36)" dy="0.35em" font-size="9.5" text-anchor="middle" fill="#262626" stroke="#262626" stroke-width="0.2">Over-Potential (V)</text>
<text transform="translate(549.2 250) rotate(-72)" dy="0.35em" font-size="9" text-anchor="middle" fill="#262626" stroke="#262626" stroke-width="0.2">50</text>
<text transform="translate(530.6 245.5) rotate(-72)" dy="0.35em" font-size="9" text-anchor="middle" fill="#262626" stroke="#262626" stroke-width="0.2">75</text>
<text transform="translate(509.6 239.7) rotate(-72)" dy="0.35em" font-size="9" text-anchor="middle" fill="#262626" stroke="#262626" stroke-width="0.2">125</text>
<text transform="translate(503.7 228.3) rotate(-72)" dy="0.35em" font-size="9.5" text-anchor="middle" fill="#262626" stroke="#262626" stroke-width="0.2">CE (%)</text>
<text x="470.5" y="185.5" font-size="20" text-anchor="start" fill="#111" stroke="#111" stroke-width="0.08" >g</text>
<clipPath id="cf"><rect x="39.0" y="341.0" width="633.6" height="97.30000000000001"/></clipPath>
<path d="M45.1,437.8 L45.1,357.3 L46.3,356.76 L46.6,367.74 L47.8,370.78 L49.15,372.7 L50.5,374.94 L51.62,375.29 L52.75,376.13 L53.88,376.02 L55,377.8 L56.13,377.52 L57.27,376.9 L58.4,377.2 L59.4,377.36 L60.4,377.38 L61.4,377 L62.4,378.16 L63.4,378.39 L64.4,377.55 L65.4,377.57 L66.4,376.94 L67.4,376.96 L68.4,377.35 L69.4,377.22 L70.4,378.13 L71.4,377.06 L72.4,376.84 L73.4,378.32 L74.4,377.65 L75.4,377.03 L76.4,377.67 L77.4,376.84 L78.4,377.64 L79.4,378.37 L80.41,378.15 L81.42,377.85 L82.43,377.13 L83.45,377.26 L84.46,376.91 L85.47,377.85 L86.48,377.44 L87.49,377.8 L88.5,377.05 L89.52,376.85 L90.53,377.76 L91.54,378.01 L92.55,377.76 L93.56,377.66 L94.57,377.65 L95.58,377.49 L96.6,376.64 L97.61,377.07 L98.62,376.78 L99.63,376.23 L100.64,376.2 L101.65,376.57 L102.67,376.51 L103.68,377.17 L104.69,377.56 L105.7,376.72 L106.85,376.5 L108,375.58 L109.12,375.49 L110.24,374.5 L111.36,374.23 L112.48,374.2 L113.6,374.11 L114.62,374.14 L115.65,374.82 L116.67,375.28 L117.7,375.19 L118.72,374.63 L119.75,374.92 L120.77,375.17 L121.8,374.04 L122.83,374.97 L123.85,375.38 L124.88,375.19 L125.9,375.15 L126.92,374.73 L127.95,374.26 L128.97,375.25 L130,374.53 L131.01,375.29 L132.01,375.57 L133.02,374.65 L134.03,374.67 L135.03,375.55 L136.04,375.2 L137.05,374.32 L138.05,374.26 L139.06,374.3 L140.07,375.51 L141.07,375.36 L142.08,374.31 L143.09,375.41 L144.09,375.66 L145.1,375.15 L146.32,374.99 L147.55,375.63 L148.78,375.28 L150,375.42 L151,376.81 L152,376.16 L153,375.82 L154,376.33 L155,375.39 L156,375.95 L157,375.74 L158,374.62 L159,374.54 L160,374.47 L161.13,374.2 L162.26,374.57 L163.39,373.86 L164.51,373.93 L165.64,373.28 L166.77,374.34 L167.9,373.27 L169.01,373.1 L170.12,372.96 L171.24,373.13 L172.35,372.02 L173.46,372.48 L174.58,371.48 L175.69,371.19 L176.8,370.84 L178.03,369.26 L179.27,369.17 L180.5,367.38 L182.2,364.55 L184,359.35 L185,356.21 L186,356.34 L187,356.29 L188.05,355.05 L189.1,353.59 L190.15,353.61 L191.2,353.1 L192.6,352.2 L194,348.11 L195.25,347.81 L196.5,344.81 L197.75,344.31 L199,345.46 L200.45,344.23 L201.9,344.12 L202.93,345.02 L203.97,345.75 L205,344.3 L206,344.4 L207,343.52 L208.05,343.74 L209.1,344.58 L210.2,344.5 L210.2,437.8 L209.15,437.82 L208.1,437.85 L207.05,437.88 L206,437.9 L204.85,437.45 L203.7,436.83 L202.5,435.92 L201.3,434.52 L200.1,434.95 L199.07,433.3 L198.03,433.13 L197,432.56 L195.85,428.7 L194.7,428.31 L193.47,428.13 L192.23,426.23 L191,422.22 L189.87,420.7 L188.73,420.36 L187.6,417.6 L186.4,416.32 L185.2,413.86 L184,414.1 L182.2,411.2 L181.12,410.88 L180.04,407.54 L178.96,408.39 L177.88,407.58 L176.8,406.03 L175.69,406.99 L174.58,406.9 L173.46,405.48 L172.35,406.42 L171.24,405.31 L170.12,405.23 L169.01,405.81 L167.9,405.33 L166.77,404.04 L165.64,404.26 L164.51,404.18 L163.39,403.69 L162.26,403.24 L161.13,403.22 L160,403.66 L159,402.41 L158,403.15 L157,402.84 L156,402.05 L155,402.43 L154,402.78 L153,402.48 L152,401.64 L151,403 L150,402.56 L148.78,403.2 L147.55,402.17 L146.32,402.77 L145.1,402.76 L144.09,403.93 L143.09,403.09 L142.08,402.85 L141.07,403.3 L140.07,404.06 L139.06,403.89 L138.05,402.97 L137.05,402.78 L136.04,403.99 L135.03,403.41 L134.03,403.6 L133.02,402.6 L132.01,402.53 L131.01,403.52 L130,403.08 L128.98,402.48 L127.96,403.83 L126.95,403.31 L125.93,403.54 L124.91,402.35 L123.89,403.55 L122.87,402.25 L121.85,403.49 L120.84,402.8 L119.82,402.58 L118.8,402.88 L117.79,403.41 L116.78,402.27 L115.78,401.98 L114.77,402.54 L113.76,402 L112.75,401.71 L111.75,401.72 L110.74,401.47 L109.73,401.63 L108.72,401.73 L107.72,401.64 L106.71,402.29 L105.7,401.46 L104.67,401.76 L103.64,401.2 L102.62,401.44 L101.59,400.87 L100.56,401.2 L99.53,400.78 L98.5,401.89 L97.48,401.56 L96.45,400.94 L95.42,401.36 L94.39,402.06 L93.36,400.69 L92.34,401.79 L91.31,401.13 L90.28,401.19 L89.25,401.7 L88.22,400.95 L87.2,401.09 L86.17,401.34 L85.14,401.77 L84.11,400.71 L83.08,401.45 L82.06,401.21 L81.03,401.06 L80,400.65 L78.95,400.53 L77.89,400.04 L76.84,400.14 L75.78,400.02 L74.73,401.07 L73.68,400.27 L72.62,400.1 L71.57,399.95 L70.52,401.14 L69.46,401.16 L68.41,400.82 L67.35,400.17 L66.3,400.09 L65.27,400.2 L64.25,400.49 L63.22,400.03 L62.19,400.52 L61.16,400.26 L60.14,401.4 L59.11,401.45 L58.08,400.79 L57.05,400.34 L56.03,401.52 L55,400.5 L53.88,400.75 L52.75,400.35 L51.62,401.14 L50.5,401.46 L49.15,402.75 L47.8,403.52 L46.6,411.21 L46.3,437.8Z" fill="#646466" stroke="none" clip-path="url(#cf)"/>
<path d="M45.3,420.7 L45.3,377.4 L46.5,377.1 L47.2,382.16 L48.05,382.07 L48.91,382.28 L49.76,382.09 L50.61,382.09 L51.47,382.28 L52.32,382.26 L53.17,382.49 L54.03,382.48 L54.88,382.63 L55.73,382.59 L56.59,382.65 L57.44,382.77 L58.29,382.49 L59.15,382.48 L60,382.89 L60.8,382.4 L61.6,382.75 L62.4,382.71 L63.2,382.36 L64,382.84 L64.8,382.88 L65.6,382.73 L66.4,382.8 L67.2,382.86 L68,382.46 L68.8,382.7 L69.6,382.7 L70.4,382.9 L71.2,382.89 L72,382.92 L72.8,382.78 L73.6,382.97 L74.4,382.85 L75.2,382.87 L76,382.6 L76.8,382.49 L77.6,382.56 L78.4,382.7 L79.2,382.55 L80,383 L80.8,382.84 L81.6,382.89 L82.4,382.9 L83.2,382.94 L84,382.83 L84.8,382.55 L85.6,383.03 L86.4,383.01 L87.2,382.87 L88,382.9 L88.8,382.98 L89.6,382.64 L90.4,383.05 L91.2,382.76 L92,382.66 L92.8,382.79 L93.6,383.07 L94.4,382.77 L95.2,383.1 L96,383.25 L96.8,382.96 L97.6,382.91 L98.4,382.97 L99.2,383.1 L100,383.16 L100.81,383.07 L101.61,383.09 L102.42,382.76 L103.23,382.8 L104.03,382.87 L104.84,383.17 L105.65,382.91 L106.45,383.07 L107.26,382.74 L108.06,382.77 L108.87,382.9 L109.68,383.14 L110.48,383.16 L111.29,383.15 L112.1,382.92 L112.9,383.06 L113.71,383.03 L114.52,383.04 L115.32,382.83 L116.13,383.3 L116.94,382.89 L117.74,383.36 L118.55,383.34 L119.35,382.79 L120.16,383.06 L120.97,383.28 L121.77,383.37 L122.58,383.06 L123.39,382.95 L124.19,382.92 L125,383.37 L125.81,382.93 L126.61,383.16 L127.42,382.89 L128.23,383.13 L129.03,383.39 L129.84,382.9 L130.65,383.31 L131.45,383.13 L132.26,383.36 L133.06,383.25 L133.87,382.97 L134.68,383.38 L135.48,383.13 L136.29,382.86 L137.1,382.85 L137.9,383.15 L138.71,383.13 L139.52,383.04 L140.32,382.95 L141.13,383.07 L141.94,383.06 L142.74,383.38 L143.55,382.88 L144.35,383.33 L145.16,383.38 L145.97,382.96 L146.77,383.44 L147.58,383.32 L148.39,383.43 L149.19,383.07 L150,383.12 L150.81,383.14 L151.61,383.51 L152.42,383.26 L153.23,383.13 L154.03,383.17 L154.84,383.08 L155.65,382.95 L156.45,382.99 L157.26,383.43 L158.06,383.1 L158.87,383.5 L159.68,383.09 L160.48,383.1 L161.29,383.25 L162.1,383.06 L162.9,383.18 L163.71,383.53 L164.52,383.49 L165.32,383.45 L166.13,383.34 L166.94,383.52 L167.74,383.54 L168.55,383.3 L169.35,383.41 L170.16,383.01 L170.97,383.42 L171.77,383.26 L172.58,383.44 L173.39,383.38 L174.19,383.17 L175,383.03 L175.81,383.56 L176.61,383.08 L177.42,383.29 L178.23,383.22 L179.03,383.19 L179.84,383.46 L180.65,383.95 L181.45,383.01 L182.26,383.53 L183.06,383.07 L183.87,383.41 L184.68,383.2 L185.48,382.9 L186.29,382.9 L187.1,382.96 L187.9,383.89 L188.71,383.35 L189.52,382.99 L190.32,383.9 L191.13,384.02 L191.94,383.3 L192.74,382.9 L193.55,382.97 L194.35,382.84 L195.16,383.17 L195.97,382.84 L196.77,383.04 L197.58,383.07 L198.39,383.49 L199.19,383.91 L200,383.73 L200.81,383.27 L201.61,383.26 L202.42,383.39 L203.23,383.19 L204.03,383.12 L204.84,382.74 L205.65,383.02 L206.45,383.91 L207.26,382.79 L208.06,383.28 L208.87,383.43 L209.68,383.72 L210.48,382.86 L211.29,382.92 L212.1,383.06 L212.9,383.13 L213.71,383.15 L214.52,383.44 L215.32,383.36 L216.13,383.37 L216.94,382.84 L217.74,382.84 L218.55,383.23 L219.35,383.33 L220.16,383.06 L220.97,383.12 L221.77,382.75 L222.58,382.97 L223.39,383.28 L224.19,383.21 L225,383.21 L225.81,383.27 L226.61,382.82 L227.42,382.73 L228.23,382.74 L229.03,382.95 L229.84,383.03 L230.65,383.17 L231.45,383.03 L232.26,382.97 L233.06,383.03 L233.87,382.83 L234.68,382.88 L235.48,382.56 L236.29,382.99 L237.1,382.65 L237.9,383.05 L238.71,382.87 L239.52,382.65 L240.32,382.53 L241.13,382.59 L241.94,382.81 L242.74,382.84 L243.55,382.47 L244.35,382.43 L245.16,382.69 L245.97,382.71 L246.77,382.58 L247.58,382.47 L248.39,382.69 L249.19,382.32 L250,382.48 L250.81,382.56 L251.61,382.85 L252.42,382.65 L253.23,382.78 L254.03,382.52 L254.84,382.36 L255.65,382.36 L256.45,382.77 L257.26,382.61 L258.06,382.36 L258.87,382.17 L259.68,382.44 L260.48,382.54 L261.29,382.37 L262.1,382.26 L262.9,382.49 L263.71,382.64 L264.52,382.2 L265.32,382.08 L266.13,382.24 L266.94,382.28 L267.74,382.43 L268.55,382.12 L269.35,382.47 L270.16,382.42 L270.97,382.27 L271.77,382.07 L272.58,382.52 L273.39,382.11 L274.19,382.4 L275,382.04 L275.81,382.02 L276.61,382.33 L277.42,382.04 L278.23,382.42 L279.03,382.13 L279.84,381.93 L280.65,381.94 L281.45,382.05 L282.26,382.18 L283.06,382.34 L283.87,381.85 L284.68,381.98 L285.48,381.86 L286.29,382.3 L287.1,381.79 L287.9,381.72 L288.71,381.72 L289.52,381.9 L290.32,382.19 L291.13,382.17 L291.94,382.07 L292.74,382.21 L293.55,382.16 L294.35,381.79 L295.16,381.69 L295.97,382.13 L296.77,382 L297.58,381.56 L298.39,381.92 L299.19,381.74 L300,381.72 L300.81,381.69 L301.61,381.59 L302.42,381.48 L303.23,381.64 L304.03,381.68 L304.84,382.03 L305.65,381.53 L306.45,382.03 L307.26,381.57 L308.06,381.65 L308.87,381.92 L309.68,381.92 L310.48,381.68 L311.29,381.44 L312.1,381.69 L312.9,381.62 L313.71,381.94 L314.52,381.5 L315.32,381.6 L316.13,381.91 L316.94,381.38 L317.74,381.6 L318.55,381.84 L319.35,381.81 L320.16,381.36 L320.97,381.35 L321.77,381.36 L322.58,381.87 L323.39,381.47 L324.19,381.75 L325,381.84 L325.81,381.5 L326.61,381.45 L327.42,381.86 L328.23,381.64 L329.03,381.43 L329.84,381.69 L330.65,381.44 L331.45,381.41 L332.26,381.24 L333.06,381.69 L333.87,381.78 L334.68,381.6 L335.48,381.78 L336.29,381.22 L337.1,381.34 L337.9,381.48 L338.71,381.76 L339.52,381.76 L340.32,381.41 L341.13,381.32 L341.94,381.42 L342.74,381.45 L343.55,381.71 L344.35,381.25 L345.16,381.62 L345.97,381.58 L346.77,381.62 L347.58,381.58 L348.39,381.48 L349.19,381.3 L350,381.29 L350.81,381.31 L351.61,381.56 L352.42,381.13 L353.23,381.19 L354.03,381.52 L354.84,381.21 L355.65,381.09 L356.45,381.07 L357.26,381.37 L358.06,381.23 L358.87,381.62 L359.68,381.55 L360.48,381.61 L361.29,381.17 L362.1,381.05 L362.9,381.05 L363.71,381.29 L364.52,381.41 L365.32,381.25 L366.13,381.11 L366.94,381.21 L367.74,381.33 L368.55,381.36 L369.35,381.39 L370.16,381.45 L370.97,381.33 L371.77,381 L372.58,381.42 L373.39,381.09 L374.19,381.25 L375,381.12 L375.81,381.34 L376.61,381.01 L377.42,381.03 L378.23,381.02 L379.03,380.96 L379.84,381.39 L380.65,381.2 L381.45,381.04 L382.26,381.08 L383.06,381.43 L383.87,381.13 L384.68,380.96 L385.48,381.3 L386.29,381.2 L387.1,381.4 L387.9,380.86 L388.71,381.08 L389.52,381.28 L390.32,381.28 L391.13,381.32 L391.94,380.79 L392.74,380.93 L393.55,380.82 L394.35,380.86 L395.16,381.32 L395.97,381.08 L396.77,381.28 L397.58,380.94 L398.39,381.23 L399.19,380.98 L400,380.86 L400.81,381.14 L401.61,381.22 L402.42,380.69 L403.23,380.96 L404.03,380.95 L404.84,380.69 L405.65,380.75 L406.45,380.59 L407.26,380.6 L408.06,380.61 L408.87,380.79 L409.68,380.8 L410.48,380.51 L411.29,380.37 L412.1,380.53 L412.9,380.72 L413.71,380.4 L414.52,380.45 L415.32,380.36 L416.13,380.69 L416.94,380.52 L417.74,380.21 L418.55,380.2 L419.35,380.36 L420.16,380.43 L420.97,380.45 L421.77,380.1 L422.58,380.12 L423.39,380.42 L424.19,380.22 L425,380.12 L425.81,380.11 L426.61,380.47 L427.42,380.06 L428.23,380.19 L429.03,380.04 L429.84,380.05 L430.65,380.3 L431.45,380.35 L432.26,379.95 L433.06,379.83 L433.87,380.12 L434.68,379.78 L435.48,379.64 L436.29,380.15 L437.1,379.84 L437.9,380.06 L438.71,379.78 L439.52,380.04 L440.32,379.77 L441.13,379.56 L441.94,379.45 L442.74,379.75 L443.55,379.78 L444.35,379.92 L445.16,379.4 L445.97,379.69 L446.77,379.52 L447.58,379.58 L448.39,379.34 L449.19,379.39 L450,379.51 L450.81,379.72 L451.61,379.2 L452.42,379.4 L453.23,379.55 L454.03,379.62 L454.84,379.12 L455.65,379.05 L456.45,379.51 L457.26,379.5 L458.06,379.17 L458.87,378.88 L459.68,379.37 L460.48,379.01 L461.29,379.29 L462.1,379.09 L462.9,379.18 L463.71,378.75 L464.52,379.09 L465.32,378.72 L466.13,378.8 L466.94,379.03 L467.74,378.99 L468.55,378.57 L469.35,378.56 L470.16,378.63 L470.97,378.67 L471.77,378.56 L472.58,378.37 L473.39,378.41 L474.19,378.67 L475,378.74 L475.81,378.19 L476.61,378.47 L477.42,378.56 L478.23,378.09 L479.03,378.54 L479.84,378.08 L480.65,378.33 L481.45,378.27 L482.26,378.29 L483.06,378.06 L483.87,378.1 L484.68,378.16 L485.48,378.04 L486.29,378.14 L487.1,377.98 L487.9,377.95 L488.71,377.67 L489.52,377.99 L490.32,377.88 L491.13,377.7 L491.94,377.98 L492.74,377.96 L493.55,377.73 L494.35,377.53 L495.16,377.68 L495.97,377.43 L496.77,377.41 L497.58,377.56 L498.39,377.32 L499.19,377.5 L500,377.51 L500.8,377.2 L501.6,377.53 L502.4,377.17 L503.2,377.54 L504,377.54 L504.8,377.35 L505.6,377.05 L506.4,377.29 L507.2,377.19 L508,377.51 L508.8,377 L509.6,377.4 L510.4,377.46 L511.2,377.28 L512,377.3 L512.8,376.9 L513.6,377.35 L514.4,377.03 L515.2,377.28 L516,377.23 L516.8,376.75 L517.6,377.1 L518.4,377.16 L519.2,376.62 L520,376.76 L520.8,376.98 L521.6,376.59 L522.4,377.01 L523.2,376.61 L524,376.91 L524.8,376.48 L525.6,376.67 L526.4,376.89 L527.2,376.44 L528,376.45 L528.8,376.57 L529.6,376.43 L530.4,376.23 L531.2,376.3 L532,376.26 L532.8,376.7 L533.6,376.52 L534.4,376.62 L535.2,376.16 L536,376.5 L536.8,376.07 L537.6,376.3 L538.4,376.33 L539.2,376.14 L540,376.42 L540.81,376.21 L541.61,376.2 L542.42,376.36 L543.23,375.87 L544.03,376.38 L544.84,376.14 L545.65,375.98 L546.45,376.2 L547.26,375.86 L548.06,376.27 L548.87,376 L549.68,375.85 L550.48,376.07 L551.29,375.85 L552.1,375.67 L552.9,375.98 L553.71,375.55 L554.52,375.99 L555.32,375.62 L556.13,375.83 L556.94,376.02 L557.74,375.75 L558.55,375.78 L559.35,375.55 L560.16,375.34 L560.97,375.33 L561.77,375.38 L562.58,375.64 L563.39,375.5 L564.19,375.53 L565,375.74 L565.83,375.2 L566.67,375.19 L567.5,375.37 L568.33,374.91 L569.17,374.83 L570,374.96 L570.83,374.74 L571.67,374.81 L572.5,374.66 L573.33,374.8 L574.17,374.73 L575,374.42 L575.83,374.67 L576.67,374.57 L577.5,374.36 L578.33,374.84 L579.17,374.42 L580,374.36 L580.83,374.32 L581.67,374.64 L582.5,374.77 L583.33,374.71 L584.17,374.48 L585,374.39 L585.83,374.23 L586.67,374.61 L587.5,374.55 L588.33,374.42 L589.17,374.59 L590,374.47 L590.81,374.75 L591.63,374.63 L592.44,374.33 L593.26,374.71 L594.07,374.19 L594.89,374.47 L595.7,374.39 L596.52,374.28 L597.33,374.17 L598.15,374.59 L598.96,374.13 L599.78,374.44 L600.59,374.67 L601.41,374.18 L602.22,374.21 L603.04,374.45 L603.85,374.38 L604.67,374.45 L605.48,374.55 L606.3,374.16 L607.11,374.23 L607.93,374.22 L608.74,374.06 L609.56,374.56 L610.37,374.48 L611.19,374.44 L612,374 L612.8,374.48 L613.6,374.4 L614.4,374.21 L615.2,374.35 L616,374.15 L616.8,374 L617.6,373.9 L618.4,373.95 L619.2,373.81 L620,373.97 L620.8,374.19 L621.6,374.14 L622.4,374.2 L623.2,374.1 L624,373.81 L624.8,373.96 L625.6,373.86 L626.4,374.05 L627.2,373.87 L628,373.69 L628.8,373.9 L629.6,374.07 L630.4,373.59 L631.2,373.97 L632,373.43 L632.8,373.55 L633.6,373.51 L634.4,373.79 L635.2,373.89 L636,373.75 L636.82,373.45 L637.65,373.73 L638.47,373.36 L639.29,373.26 L640.12,373.61 L640.94,373.4 L641.76,373.39 L642.59,373.32 L643.41,373.46 L644.24,373.11 L645.06,373.29 L645.88,373.15 L646.71,373.2 L647.53,372.9 L648.35,373.03 L649.18,372.89 L650,372.68 L650.83,372.54 L651.67,372.71 L652.5,372.3 L653.33,372.71 L654.17,372.17 L655,372.02 L655.83,371.98 L656.67,372.39 L657.5,371.96 L658.33,371.75 L659.17,371.6 L660,371.52 L660.86,371.77 L661.71,371.59 L662.57,371.49 L663.43,371.37 L664.29,370.83 L665.14,371 L666,370.72 L666.81,370.93 L667.62,370.87 L668.44,370.85 L669.25,370.29 L670.06,370.71 L670.88,370.67 L671.69,370.63 L672.5,370.3 L672.5,403.3 L671.67,403.25 L670.83,403.19 L670,403.14 L669.17,403.09 L668.33,403.03 L667.5,402.98 L666.67,402.93 L665.83,402.87 L665,402.82 L664.17,402.77 L663.33,402.71 L662.5,402.66 L661.67,402.61 L660.83,402.55 L660,402.5 L659.2,402.46 L658.4,402.41 L657.6,402.37 L656.8,402.33 L656,402.28 L655.2,402.24 L654.4,402.2 L653.6,402.15 L652.8,402.11 L652,402.07 L651.2,402.02 L650.4,401.98 L649.6,401.94 L648.8,401.89 L648,401.85 L647.2,401.81 L646.4,401.76 L645.6,401.72 L644.8,401.68 L644,401.63 L643.2,401.59 L642.4,401.55 L641.6,401.5 L640.8,401.46 L640,401.42 L639.2,401.37 L638.4,401.33 L637.6,401.29 L636.8,401.24 L636,400.96 L635.2,401.01 L634.4,400.94 L633.6,400.88 L632.8,401.36 L632,401.32 L631.2,401.2 L630.4,401.3 L629.6,401.17 L628.8,400.95 L628,400.83 L627.2,400.81 L626.4,401.19 L625.6,400.85 L624.8,400.9 L624,400.95 L623.2,400.7 L622.4,400.83 L621.6,400.83 L620.8,401.08 L620,400.85 L619.2,400.81 L618.4,401.19 L617.6,400.9 L616.8,401.09 L616,400.94 L615.2,400.57 L614.4,400.79 L613.6,400.79 L612.8,400.98 L612,400.71 L611.19,400.9 L610.37,400.79 L609.56,400.57 L608.74,400.94 L607.93,400.46 L607.11,400.88 L606.3,400.47 L605.48,400.35 L604.67,400.45 L603.85,400.77 L603.04,400.88 L602.22,400.28 L601.41,400.55 L600.59,400.54 L599.78,400.7 L598.96,400.31 L598.15,400.48 L597.33,400.37 L596.52,400.65 L595.7,400.29 L594.89,400.68 L594.07,400.26 L593.26,400.2 L592.44,400.48 L591.63,400.34 L590.81,400.08 L590,400.38 L589.17,400 L588.33,400.37 L587.5,400.27 L586.67,400.27 L585.83,400.13 L585,399.91 L584.17,399.89 L583.33,399.84 L582.5,400.08 L581.67,399.55 L580.83,399.98 L580,399.42 L579.17,399.47 L578.33,399.46 L577.5,399.79 L576.67,399.5 L575.83,399.38 L575,399.63 L574.17,399.17 L573.33,399.24 L572.5,399.22 L571.67,399.29 L570.83,399.22 L570,399.09 L569.17,398.84 L568.33,398.76 L567.5,398.59 L566.67,398.94 L565.83,398.76 L565,398.75 L564.19,398.4 L563.39,398.55 L562.58,398.74 L561.77,398.62 L560.97,398.34 L560.16,398.54 L559.35,398.79 L558.55,398.39 L557.74,398.36 L556.94,398.42 L556.13,398.65 L555.32,398.73 L554.52,398.31 L553.71,398.3 L552.9,398.35 L552.1,398.39 L551.29,398.5 L550.48,398.28 L549.68,398.37 L548.87,398.28 L548.06,398.75 L547.26,398.6 L546.45,398.21 L545.65,398.72 L544.84,398.2 L544.03,398.36 L543.23,398.72 L542.42,398.6 L541.61,398.55 L540.81,398.37 L540,398.22 L539.2,398.47 L538.4,398.15 L537.6,398.2 L536.8,398.3 L536,398.08 L535.2,398.29 L534.4,398.52 L533.6,398.45 L532.8,398.33 L532,398.4 L531.2,398.29 L530.4,398.09 L529.6,398.36 L528.8,398.23 L528,398.42 L527.2,398.52 L526.4,398.22 L525.6,398.3 L524.8,398.4 L524,398.19 L523.2,398.07 L522.4,398.36 L521.6,398.44 L520.8,398.37 L520,398.32 L519.2,398.4 L518.4,398.29 L517.6,398.26 L516.8,398.14 L516,398.05 L515.2,398.23 L514.4,397.9 L513.6,398.09 L512.8,398.3 L512,398.25 L511.2,398.19 L510.4,397.95 L509.6,398.05 L508.8,398.06 L508,398.15 L507.2,398.02 L506.4,398.17 L505.6,398.31 L504.8,397.86 L504,398.13 L503.2,398.2 L502.4,397.96 L501.6,398.01 L500.8,398.29 L500,397.72 L499.19,398.01 L498.39,397.77 L497.58,398.13 L496.77,398.21 L495.97,397.95 L495.16,397.68 L494.35,397.95 L493.55,397.92 L492.74,398.01 L491.94,397.88 L491.13,397.94 L490.32,398.04 L489.52,397.85 L488.71,397.77 L487.9,398.08 L487.1,397.62 L486.29,397.89 L485.48,397.7 L484.68,397.91 L483.87,397.52 L483.06,398.02 L482.26,397.63 L481.45,397.44 L480.65,397.55 L479.84,397.62 L479.03,397.37 L478.23,397.6 L477.42,397.59 L476.61,397.74 L475.81,397.52 L475,397.46 L474.19,397.42 L473.39,397.72 L472.58,397.83 L471.77,397.56 L470.97,397.37 L470.16,397.7 L469.35,397.44 L468.55,397.32 L467.74,397.26 L466.94,397.64 L466.13,397.64 L465.32,397.53 L464.52,397.41 L463.71,397.46 L462.9,397.24 L462.1,397.67 L461.29,397.29 L460.48,397.45 L459.68,397.55 L458.87,397.53 L458.06,397.31 L457.26,397.19 L456.45,397.33 L455.65,397.07 L454.84,397.48 L454.03,397.18 L453.23,397.46 L452.42,397.1 L451.61,397.15 L450.81,397.07 L450,397.16 L449.19,397 L448.39,396.88 L447.58,397.3 L446.77,397.03 L445.97,397 L445.16,397.02 L444.35,397.12 L443.55,397.08 L442.74,397.2 L441.94,397.2 L441.13,397.01 L440.32,397.34 L439.52,397.29 L438.71,396.8 L437.9,397.25 L437.1,397.29 L436.29,397.21 L435.48,396.81 L434.68,397.21 L433.87,397.09 L433.06,396.71 L432.26,396.69 L431.45,397.25 L430.65,397.06 L429.84,396.81 L429.03,396.71 L428.23,396.72 L427.42,396.77 L426.61,397.09 L425.81,396.82 L425,396.69 L424.19,397.13 L423.39,397.06 L422.58,396.67 L421.77,397.1 L420.97,396.92 L420.16,397.01 L419.35,396.93 L418.55,397.06 L417.74,396.99 L416.94,397.01 L416.13,396.61 L415.32,396.9 L414.52,396.79 L413.71,396.91 L412.9,396.72 L412.1,396.97 L411.29,396.77 L410.48,396.58 L409.68,396.56 L408.87,396.49 L408.06,396.69 L407.26,396.42 L406.45,396.66 L405.65,396.45 L404.84,396.65 L404.03,396.65 L403.23,396.66 L402.42,396.85 L401.61,396.32 L400.81,396.81 L400,396.58 L399.19,396.63 L398.39,396.69 L397.58,396.79 L396.77,396.51 L395.97,396.53 L395.16,396.85 L394.35,396.31 L393.55,396.64 L392.74,396.64 L391.94,396.27 L391.13,396.61 L390.32,396.65 L389.52,396.8 L388.71,396.43 L387.9,396.82 L387.1,396.53 L386.29,396.51 L385.48,396.75 L384.68,396.23 L383.87,396.63 L383.06,396.57 L382.26,396.4 L381.45,396.71 L380.65,396.4 L379.84,396.46 L379.03,396.49 L378.23,396.63 L377.42,396.29 L376.61,396.42 L375.81,396.41 L375,396.48 L374.19,396.64 L373.39,396.32 L372.58,396.63 L371.77,396.37 L370.97,396.43 L370.16,396.28 L369.35,396.42 L368.55,396.7 L367.74,396.5 L366.94,396.58 L366.13,396.3 L365.32,396.28 L364.52,396.27 L363.71,396.43 L362.9,396.46 L362.1,396.54 L361.29,396.09 L360.48,396.5 L359.68,396.59 L358.87,396.38 L358.06,396.08 L357.26,396.22 L356.45,396.04 L355.65,396.15 L354.84,396.58 L354.03,396.39 L353.23,396.41 L352.42,396.49 L351.61,396.56 L350.81,396.37 L350,396.37 L349.19,396.37 L348.39,396.41 L347.58,396.35 L346.77,396.4 L345.97,396.12 L345.16,396.39 L344.35,396.26 L343.55,396.44 L342.74,396.05 L341.94,396.09 L341.13,396 L340.32,396.45 L339.52,396.53 L338.71,396.37 L337.9,396.2 L337.1,396.47 L336.29,396.44 L335.48,396.31 L334.68,396.12 L333.87,396.15 L333.06,396.22 L332.26,396.16 L331.45,396.22 L330.65,396.35 L329.84,396.52 L329.03,395.99 L328.23,396.3 L327.42,395.98 L326.61,396.02 L325.81,396.44 L325,396.3 L324.19,396.5 L323.39,396.21 L322.58,395.95 L321.77,396.18 L320.97,396.3 L320.16,396.5 L319.35,396.53 L318.55,396.22 L317.74,396.18 L316.94,396 L316.13,396.32 L315.32,396.06 L314.52,396.02 L313.71,395.94 L312.9,395.93 L312.1,396.33 L311.29,396 L310.48,396.5 L309.68,395.97 L308.87,396.44 L308.06,395.99 L307.26,395.93 L306.45,396.34 L305.65,396.06 L304.84,396.35 L304.03,396.02 L303.23,395.94 L302.42,396.37 L301.61,396.33 L300.81,396.41 L300,396.34 L299.19,395.95 L298.39,396.28 L297.58,396.34 L296.77,396.19 L295.97,396.48 L295.16,396.07 L294.35,396.5 L293.55,396.36 L292.74,395.94 L291.94,395.94 L291.13,396.33 L290.32,396.43 L289.52,395.99 L288.71,396.13 L287.9,396.39 L287.1,396.05 L286.29,396.47 L285.48,396.25 L284.68,396 L283.87,396.19 L283.06,396.31 L282.26,396.23 L281.45,396.38 L280.65,396.06 L279.84,396.46 L279.03,396.2 L278.23,396.37 L277.42,396.37 L276.61,396.24 L275.81,396.23 L275,396.47 L274.19,396.57 L273.39,396.48 L272.58,396.35 L271.77,396.19 L270.97,396.05 L270.16,396.6 L269.35,396.44 L268.55,396.52 L267.74,396.23 L266.94,396.4 L266.13,396.62 L265.32,396.54 L264.52,396.4 L263.71,396.23 L262.9,396.31 L262.1,396.58 L261.29,396.28 L260.48,396.47 L259.68,396.42 L258.87,396.6 L258.06,396.55 L257.26,396.24 L256.45,396.08 L255.65,396.24 L254.84,396.33 L254.03,396.44 L253.23,396.58 L252.42,396.62 L251.61,396.12 L250.81,396.6 L250,396.59 L249.19,396.62 L248.39,396.45 L247.58,396.27 L246.77,396.62 L245.97,396.59 L245.16,396.52 L244.35,396.66 L243.55,396.32 L242.74,396.17 L241.94,396.45 L241.13,396.6 L240.32,396.24 L239.52,396.57 L238.71,396.68 L237.9,396.26 L237.1,396.49 L236.29,396.53 L235.48,396.41 L234.68,396.25 L233.87,396.29 L233.06,396.58 L232.26,396.61 L231.45,396.41 L230.65,396.19 L229.84,396.62 L229.03,396.61 L228.23,396.28 L227.42,396.49 L226.61,396.68 L225.81,396.68 L225,396.46 L224.19,396.44 L223.39,396.51 L222.58,396.27 L221.77,396.27 L220.97,396.27 L220.16,396.58 L219.35,396.38 L218.55,396.5 L217.74,396.41 L216.94,396.48 L216.13,396.26 L215.32,396.2 L214.52,396.77 L213.71,396.4 L212.9,396.24 L212.1,396.56 L211.29,396.86 L210.48,396.03 L209.68,396.61 L208.87,396.28 L208.06,396.51 L207.26,395.85 L206.45,395.87 L205.65,397.14 L204.84,396.97 L204.03,396.47 L203.23,396.58 L202.42,396.18 L201.61,396.87 L200.81,396.4 L200,397.09 L199.19,396.86 L198.39,396.93 L197.58,397.13 L196.77,396.19 L195.97,395.91 L195.16,396.13 L194.35,396.11 L193.55,395.99 L192.74,395.95 L191.94,396.62 L191.13,397.04 L190.32,396.5 L189.52,397.15 L188.71,397.11 L187.9,396 L187.1,396.71 L186.29,396.45 L185.48,396.09 L184.68,397.2 L183.87,396.28 L183.06,396.69 L182.26,396.79 L181.45,397.21 L180.65,396.84 L179.84,396.56 L179.03,396.59 L178.23,396.43 L177.42,396.91 L176.61,396.94 L175.81,396.48 L175,396.37 L174.19,396.51 L173.39,396.57 L172.58,396.91 L171.77,396.91 L170.97,396.88 L170.16,396.41 L169.35,396.86 L168.55,396.81 L167.74,396.78 L166.94,396.99 L166.13,396.44 L165.32,396.49 L164.52,396.87 L163.71,396.98 L162.9,396.83 L162.1,396.61 L161.29,396.79 L160.48,396.89 L159.68,396.51 L158.87,396.64 L158.06,396.61 L157.26,396.53 L156.45,396.75 L155.65,396.57 L154.84,396.61 L154.03,396.56 L153.23,396.89 L152.42,396.49 L151.61,396.92 L150.81,396.61 L150,396.52 L149.19,397.06 L148.39,396.64 L147.58,397.07 L146.77,397.03 L145.97,397.05 L145.16,396.6 L144.35,396.79 L143.55,396.58 L142.74,397.09 L141.94,397.04 L141.13,396.91 L140.32,396.81 L139.52,396.75 L138.71,397.04 L137.9,396.83 L137.1,396.93 L136.29,396.64 L135.48,396.69 L134.68,396.6 L133.87,396.99 L133.06,396.9 L132.26,396.66 L131.45,397.1 L130.65,396.74 L129.84,396.83 L129.03,396.68 L128.23,396.75 L127.42,397.09 L126.61,396.79 L125.81,396.7 L125,396.89 L124.19,396.79 L123.39,397.15 L122.58,396.68 L121.77,397.2 L120.97,396.65 L120.16,397.16 L119.35,397.02 L118.55,396.75 L117.74,396.92 L116.94,396.8 L116.13,396.79 L115.32,396.76 L114.52,396.86 L113.71,397.24 L112.9,397.25 L112.1,397.21 L111.29,396.71 L110.48,396.83 L109.68,397.2 L108.87,396.7 L108.06,397.1 L107.26,396.85 L106.45,397.26 L105.65,396.69 L104.84,397.16 L104.03,396.89 L103.23,396.77 L102.42,396.69 L101.61,397.19 L100.81,397.01 L100,396.81 L99.2,396.96 L98.4,397.25 L97.6,396.84 L96.8,397.05 L96,396.79 L95.2,396.82 L94.4,397.18 L93.6,397.14 L92.8,396.84 L92,396.77 L91.2,396.77 L90.4,397.09 L89.6,397.02 L88.8,396.89 L88,396.85 L87.2,397.1 L86.4,397.16 L85.6,397.22 L84.8,397.09 L84,396.86 L83.2,396.78 L82.4,397.18 L81.6,396.99 L80.8,397.18 L80,396.78 L79.2,397.24 L78.4,396.96 L77.6,397.26 L76.8,397.28 L76,397.06 L75.2,396.77 L74.4,397.31 L73.6,397.05 L72.8,397.29 L72,396.93 L71.2,396.88 L70.4,397.27 L69.6,397 L68.8,396.88 L68,397 L67.2,397.14 L66.4,396.79 L65.6,397.1 L64.8,397.06 L64,397.1 L63.2,396.86 L62.4,397.22 L61.6,397.29 L60.8,397.32 L60,396.99 L59.15,397.24 L58.29,397.06 L57.44,397.29 L56.59,396.89 L55.73,397.39 L54.88,397.45 L54.03,397.19 L53.17,397.21 L52.32,397.24 L51.47,397.26 L50.61,396.96 L49.76,397.54 L48.91,397.11 L48.05,397.1 L47.2,397.06 L46.4,401.85 L46,420.7Z" fill="#a89e16" stroke="none" clip-path="url(#cf)"/>
<rect x="39" y="341" width="633.6" height="97.3" fill="none" stroke="#2a2a2a" stroke-width="1.15" />
<line x1="39" y1="437.9" x2="42" y2="437.9" stroke="#2a2a2a" stroke-width="1" />
<line x1="39" y1="413.6" x2="41" y2="413.6" stroke="#2a2a2a" stroke-width="1" />
<line x1="39" y1="389.3" x2="42" y2="389.3" stroke="#2a2a2a" stroke-width="1" />
<line x1="39" y1="365" x2="41" y2="365" stroke="#2a2a2a" stroke-width="1" />
<line x1="39" y1="340.7" x2="42" y2="340.7" stroke="#2a2a2a" stroke-width="1" />
<line x1="45.3" y1="438.3" x2="45.3" y2="435.3" stroke="#2a2a2a" stroke-width="1" />
<line x1="108.04" y1="438.3" x2="108.04" y2="436.3" stroke="#2a2a2a" stroke-width="1" />
<line x1="170.78" y1="438.3" x2="170.78" y2="435.3" stroke="#2a2a2a" stroke-width="1" />
<line x1="233.52" y1="438.3" x2="233.52" y2="436.3" stroke="#2a2a2a" stroke-width="1" />
<line x1="296.26" y1="438.3" x2="296.26" y2="435.3" stroke="#2a2a2a" stroke-width="1" />
<line x1="359" y1="438.3" x2="359" y2="436.3" stroke="#2a2a2a" stroke-width="1" />
<line x1="421.74" y1="438.3" x2="421.74" y2="435.3" stroke="#2a2a2a" stroke-width="1" />
<line x1="484.48" y1="438.3" x2="484.48" y2="436.3" stroke="#2a2a2a" stroke-width="1" />
<line x1="547.22" y1="438.3" x2="547.22" y2="435.3" stroke="#2a2a2a" stroke-width="1" />
<line x1="609.96" y1="438.3" x2="609.96" y2="436.3" stroke="#2a2a2a" stroke-width="1" />
<line x1="672.7" y1="438.3" x2="672.7" y2="435.3" stroke="#2a2a2a" stroke-width="1" />
<text x="35.3" y="344.9" font-size="11.5" text-anchor="end" fill="#262626" stroke="#262626" stroke-width="0.08" >0.4</text>
<text x="35.3" y="393.5" font-size="11.5" text-anchor="end" fill="#262626" stroke="#262626" stroke-width="0.08" >0.0</text>
<text x="35.3" y="442.1" font-size="11.5" text-anchor="end" fill="#262626" stroke="#262626" stroke-width="0.08" >-0.4</text>
<text x="45.3" y="451" font-size="11.5" text-anchor="middle" fill="#262626" stroke="#262626" stroke-width="0.08" >0</text>
<text x="170.78" y="451" font-size="11.5" text-anchor="middle" fill="#262626" stroke="#262626" stroke-width="0.08" >200</text>
<text x="296.26" y="451" font-size="11.5" text-anchor="middle" fill="#262626" stroke="#262626" stroke-width="0.08" >400</text>
<text x="421.74" y="451" font-size="11.5" text-anchor="middle" fill="#262626" stroke="#262626" stroke-width="0.08" >600</text>
<text x="547.22" y="451" font-size="11.5" text-anchor="middle" fill="#262626" stroke="#262626" stroke-width="0.08" >800</text>
<text x="672.7" y="451" font-size="11.5" text-anchor="middle" fill="#262626" stroke="#262626" stroke-width="0.08" >1000</text>
<text x="356" y="469" font-size="12.3" text-anchor="middle" fill="#262626" stroke="#262626" stroke-width="0.08" >Cycling Time (h)</text>
<text x="12.3" y="392.1" font-size="12.8" text-anchor="middle" fill="#262626" stroke="#262626" stroke-width="0.08" transform="rotate(-90 12.3 392.1)" >Voltage (V)</text>
<line x1="291" y1="428.4" x2="307.2" y2="428.4" stroke="#a89e16" stroke-width="2.0" />
<text x="310.7" y="432" font-size="10.6" text-anchor="start" fill="#262626" stroke="#262626" stroke-width="0.2" >Symmetric Mg@BP<tspan fill="#8a8a8a">||</tspan>Mg@BP cell</text>
<line x1="485.9" y1="428.4" x2="502.5" y2="428.4" stroke="#646466" stroke-width="2.0" />
<text x="506" y="432" font-size="10.6" text-anchor="start" fill="#262626" stroke="#262626" stroke-width="0.2" >Symmetric Mg<tspan fill="#8a8a8a">||</tspan>Mg cell</text>
<text x="2.6" y="349.6" font-size="20" text-anchor="start" fill="#111" stroke="#111" stroke-width="0.08" >f</text>
<defs><linearGradient id="hg0" x1="0" y1="0" x2="0" y2="1"><stop offset="0" stop-color="#c8121e"/><stop offset="1" stop-color="#fbc2c8"/></linearGradient><linearGradient id="hg1" x1="0" y1="0" x2="0" y2="1"><stop offset="0" stop-color="#c8121e"/><stop offset="1" stop-color="#fbc2c8"/></linearGradient><linearGradient id="hg2" x1="0" y1="0" x2="0" y2="1"><stop offset="0" stop-color="#c8121e"/><stop offset="1" stop-color="#fbc2c8"/></linearGradient><linearGradient id="hg3" x1="0" y1="0" x2="0" y2="1"><stop offset="0" stop-color="#c8121e"/><stop offset="1" stop-color="#fbc2c8"/></linearGradient><linearGradient id="hg4" x1="0" y1="0" x2="0" y2="1"><stop offset="0" stop-color="#3a9ee8"/><stop offset="1" stop-color="#c0e2f8"/></linearGradient><linearGradient id="hg5" x1="0" y1="0" x2="0" y2="1"><stop offset="0" stop-color="#b85858"/><stop offset="1" stop-color="#d09090"/></linearGradient><linearGradient id="hg6" x1="0" y1="0" x2="0" y2="1"><stop offset="0" stop-color="#62b062"/><stop offset="1" stop-color="#a8d8a0"/></linearGradient><linearGradient id="hg7" x1="0" y1="0" x2="0" y2="1"><stop offset="0" stop-color="#f0a060"/><stop offset="1" stop-color="#fcecd0"/></linearGradient><linearGradient id="hg8" x1="0" y1="0" x2="0" y2="1"><stop offset="0" stop-color="#dc55ff"/><stop offset="1" stop-color="#f2c0ff"/></linearGradient><linearGradient id="hg9" x1="0" y1="0" x2="0" y2="1"><stop offset="0" stop-color="#e8cc30"/><stop offset="1" stop-color="#fcf0d0"/></linearGradient><linearGradient id="hg10" x1="0" y1="0" x2="0" y2="1"><stop offset="0" stop-color="#e8cc30"/><stop offset="1" stop-color="#fcf0d0"/></linearGradient><linearGradient id="hg11" x1="0" y1="0" x2="0" y2="1"><stop offset="0" stop-color="#e8cc30"/><stop offset="1" stop-color="#fcf0d0"/></linearGradient><linearGradient id="hg12" x1="0" y1="0" x2="0" y2="1"><stop offset="0" stop-color="#2c9ef0"/><stop offset="1" stop-color="#c4c8f8"/></linearGradient><linearGradient id="hg13" x1="0" y1="0" x2="0" y2="1"><stop offset="0" stop-color="#2c9ef0"/><stop offset="1" stop-color="#c4c8f8"/></linearGradient><linearGradient id="hg14" x1="0" y1="0" x2="0" y2="1"><stop offset="0" stop-color="#c07040"/><stop offset="1" stop-color="#d89870"/></linearGradient><linearGradient id="hg15" x1="0" y1="0" x2="0" y2="1"><stop offset="0" stop-color="#14685f"/><stop offset="1" stop-color="#e4fab8"/></linearGradient><linearGradient id="hg16" x1="0" y1="0" x2="0" y2="1"><stop offset="0" stop-color="#14685f"/><stop offset="1" stop-color="#e4fab8"/></linearGradient><linearGradient id="hg17" x1="0" y1="0" x2="0" y2="1"><stop offset="0" stop-color="#ff70c8"/><stop offset="1" stop-color="#ffc4cc"/></linearGradient><linearGradient id="hg18" x1="0" y1="0" x2="0" y2="1"><stop offset="0" stop-color="#a8b0e4"/><stop offset="1" stop-color="#c0c0c0"/></linearGradient><linearGradient id="hg19" x1="0" y1="0" x2="0" y2="1"><stop offset="0" stop-color="#e8c828"/><stop offset="1" stop-color="#fcf6cc"/></linearGradient><linearGradient id="hg20" x1="0" y1="0" x2="0" y2="1"><stop offset="0" stop-color="#ff8a26"/><stop offset="1" stop-color="#ffe2cc"/></linearGradient><linearGradient id="hg21" x1="0" y1="0" x2="0" y2="1"><stop offset="0" stop-color="#ff8a26"/><stop offset="1" stop-color="#ffe2cc"/></linearGradient><linearGradient id="hg22" x1="0" y1="0" x2="0" y2="1"><stop offset="0" stop-color="#6cc8c8"/><stop offset="1" stop-color="#aaf6f6"/></linearGradient><linearGradient id="hg23" x1="0" y1="0" x2="0" y2="1"><stop offset="0" stop-color="#6cc8c8"/><stop offset="1" stop-color="#aaf6f6"/></linearGradient><linearGradient id="hg24" x1="0" y1="0" x2="0" y2="1"><stop offset="0" stop-color="#6cc8c8"/><stop offset="1" stop-color="#aaf6f6"/></linearGradient><linearGradient id="hg25" x1="0" y1="0" x2="0" y2="1"><stop offset="0" stop-color="#d0d0ec"/><stop offset="1" stop-color="#8c8c94"/></linearGradient></defs>
<rect x="55" y="492.92" width="9.4" height="93.68" fill="url(#hg0)" stroke="#2a2a2a" stroke-width="1.0" />
<text x="59.7" y="490.72" font-size="10" text-anchor="middle" fill="#262626" stroke="#262626" stroke-width="0.2" >1605</text>
<text x="59.7" y="598.9" font-size="11" text-anchor="middle" fill="#262626" stroke="#262626" stroke-width="0.08" >2</text>
<rect x="71.2" y="504.88" width="9.4" height="81.72" fill="url(#hg1)" stroke="#2a2a2a" stroke-width="1.0" />
<text x="75.9" y="502.68" font-size="10" text-anchor="middle" fill="#262626" stroke="#262626" stroke-width="0.2" >1400</text>
<text x="75.9" y="598.9" font-size="11" text-anchor="middle" fill="#262626" stroke="#262626" stroke-width="0.08" >4</text>
<rect x="87.4" y="513.17" width="9.4" height="73.43" fill="url(#hg2)" stroke="#2a2a2a" stroke-width="1.0" />
<text x="92.1" y="510.97" font-size="10" text-anchor="middle" fill="#262626" stroke="#262626" stroke-width="0.2" >1258</text>
<text x="92.1" y="598.9" font-size="11" text-anchor="middle" fill="#262626" stroke="#262626" stroke-width="0.08" >8</text>
<rect x="103.9" y="540.6" width="9.4" height="46" fill="url(#hg3)" stroke="#2a2a2a" stroke-width="1.0" />
<text x="108.6" y="538.4" font-size="10" text-anchor="middle" fill="#262626" stroke="#262626" stroke-width="0.2" >788</text>
<text x="108.6" y="598.9" font-size="11" text-anchor="middle" fill="#262626" stroke="#262626" stroke-width="0.08" >16</text>
<rect x="136.5" y="574.93" width="9.4" height="11.67" fill="url(#hg4)" stroke="#2a2a2a" stroke-width="1.0" />
<text x="141.2" y="572.73" font-size="10" text-anchor="middle" fill="#262626" stroke="#262626" stroke-width="0.2" >200</text>
<text x="141.2" y="598.9" font-size="11" text-anchor="middle" fill="#262626" stroke="#262626" stroke-width="0.08" >2</text>
<rect x="169" y="584.27" width="9.4" height="2.33" fill="url(#hg5)" stroke="#2a2a2a" stroke-width="1.0" />
<text x="173.7" y="582.07" font-size="10" text-anchor="middle" fill="#262626" stroke="#262626" stroke-width="0.2" >40</text>
<text x="173.7" y="598.9" font-size="11" text-anchor="middle" fill="#262626" stroke="#262626" stroke-width="0.08" >10</text>
<rect x="201.3" y="583.68" width="9.4" height="2.92" fill="url(#hg6)" stroke="#2a2a2a" stroke-width="1.0" />
<text x="206" y="581.48" font-size="10" text-anchor="middle" fill="#262626" stroke="#262626" stroke-width="0.2" >50</text>
<text x="206" y="598.9" font-size="11" text-anchor="middle" fill="#262626" stroke="#262626" stroke-width="0.08" >1</text>
<rect x="234.3" y="528.23" width="9.4" height="58.37" fill="url(#hg7)" stroke="#2a2a2a" stroke-width="1.0" />
<text x="239" y="526.03" font-size="10" text-anchor="middle" fill="#262626" stroke="#262626" stroke-width="0.2" >1000</text>
<text x="239" y="598.9" font-size="11" text-anchor="middle" fill="#262626" stroke="#262626" stroke-width="0.08" >1</text>
<rect x="266.7" y="562.08" width="9.4" height="24.52" fill="url(#hg8)" stroke="#2a2a2a" stroke-width="1.0" />
<text x="271.4" y="559.88" font-size="10" text-anchor="middle" fill="#262626" stroke="#262626" stroke-width="0.2" >420</text>
<text x="271.4" y="598.9" font-size="11" text-anchor="middle" fill="#262626" stroke="#262626" stroke-width="0.08" >3</text>
<rect x="299.5" y="528.23" width="9.4" height="58.37" fill="url(#hg9)" stroke="#2a2a2a" stroke-width="1.0" />
<text x="304.2" y="526.03" font-size="10" text-anchor="middle" fill="#262626" stroke="#262626" stroke-width="0.2" >1000</text>
<text x="304.2" y="598.9" font-size="11" text-anchor="middle" fill="#262626" stroke="#262626" stroke-width="0.08" >1</text>
<rect x="315.6" y="541.66" width="9.4" height="44.94" fill="url(#hg10)" stroke="#2a2a2a" stroke-width="1.0" />
<text x="320.3" y="539.46" font-size="10" text-anchor="middle" fill="#262626" stroke="#262626" stroke-width="0.2" >770</text>
<text x="320.3" y="598.9" font-size="11" text-anchor="middle" fill="#262626" stroke="#262626" stroke-width="0.08" >3</text>
<rect x="331.9" y="544.11" width="9.4" height="42.49" fill="url(#hg11)" stroke="#2a2a2a" stroke-width="1.0" />
<text x="336.6" y="541.91" font-size="10" text-anchor="middle" fill="#262626" stroke="#262626" stroke-width="0.2" >728</text>
<text x="336.6" y="598.9" font-size="11" text-anchor="middle" fill="#262626" stroke="#262626" stroke-width="0.08" >5</text>
<rect x="371.3" y="574.93" width="9.4" height="11.67" fill="url(#hg12)" stroke="#2a2a2a" stroke-width="1.0" />
<text x="376" y="572.73" font-size="10" text-anchor="middle" fill="#262626" stroke="#262626" stroke-width="0.2" >200</text>
<text x="376" y="598.9" font-size="11" text-anchor="middle" fill="#262626" stroke="#262626" stroke-width="0.08" >0.1</text>
<rect x="387.6" y="579.6" width="9.4" height="7" fill="url(#hg13)" stroke="#2a2a2a" stroke-width="1.0" />
<text x="392.3" y="577.4" font-size="10" text-anchor="middle" fill="#262626" stroke="#262626" stroke-width="0.2" >120</text>
<text x="392.3" y="598.9" font-size="11" text-anchor="middle" fill="#262626" stroke="#262626" stroke-width="0.08" >1.5</text>
<rect x="410.7" y="584.27" width="9.4" height="2.33" fill="url(#hg14)" stroke="#2a2a2a" stroke-width="1.0" />
<text x="415.4" y="582.07" font-size="10" text-anchor="middle" fill="#262626" stroke="#262626" stroke-width="0.2" >40</text>
<text x="415.4" y="598.9" font-size="11" text-anchor="middle" fill="#262626" stroke="#262626" stroke-width="0.08" >10</text>
<rect x="434" y="514.22" width="9.4" height="72.38" fill="url(#hg15)" stroke="#2a2a2a" stroke-width="1.0" />
<text x="438.7" y="512.02" font-size="10" text-anchor="middle" fill="#262626" stroke="#262626" stroke-width="0.2" >1240</text>
<text x="438.7" y="598.9" font-size="11" text-anchor="middle" fill="#262626" stroke="#262626" stroke-width="0.08" >0.5</text>
<rect x="450.1" y="522.39" width="9.4" height="64.21" fill="url(#hg16)" stroke="#2a2a2a" stroke-width="1.0" />
<text x="454.8" y="520.19" font-size="10" text-anchor="middle" fill="#262626" stroke="#262626" stroke-width="0.2" >1100</text>
<text x="454.8" y="598.9" font-size="11" text-anchor="middle" fill="#262626" stroke="#262626" stroke-width="0.08" >1</text>
<rect x="473.3" y="516.56" width="9.4" height="70.04" fill="url(#hg17)" stroke="#2a2a2a" stroke-width="1.0" />
<text x="478" y="514.36" font-size="10" text-anchor="middle" fill="#262626" stroke="#262626" stroke-width="0.2" >1200</text>
<text x="478" y="598.9" font-size="11" text-anchor="middle" fill="#262626" stroke="#262626" stroke-width="0.08" >1</text>
<rect x="496.4" y="539.9" width="9.4" height="46.7" fill="url(#hg18)" stroke="#2a2a2a" stroke-width="1.0" />
<text x="501.1" y="537.7" font-size="10" text-anchor="middle" fill="#262626" stroke="#262626" stroke-width="0.2" >800</text>
<text x="501.1" y="598.9" font-size="11" text-anchor="middle" fill="#262626" stroke="#262626" stroke-width="0.08" >2</text>
<rect x="522.2" y="551.58" width="9.4" height="35.02" fill="url(#hg19)" stroke="#2a2a2a" stroke-width="1.0" />
<text x="526.9" y="549.38" font-size="10" text-anchor="middle" fill="#262626" stroke="#262626" stroke-width="0.2" >600</text>
<text x="526.9" y="598.9" font-size="11" text-anchor="middle" fill="#262626" stroke="#262626" stroke-width="0.08" >0.5</text>
<rect x="551.8" y="574.93" width="9.4" height="11.67" fill="url(#hg20)" stroke="#2a2a2a" stroke-width="1.0" />
<text x="556.5" y="572.73" font-size="10" text-anchor="middle" fill="#262626" stroke="#262626" stroke-width="0.2" >200</text>
<text x="556.5" y="598.9" font-size="11" text-anchor="middle" fill="#262626" stroke="#262626" stroke-width="0.08" >0.5</text>
<rect x="568.1" y="551.58" width="9.4" height="35.02" fill="url(#hg21)" stroke="#2a2a2a" stroke-width="1.0" />
<text x="572.8" y="549.38" font-size="10" text-anchor="middle" fill="#262626" stroke="#262626" stroke-width="0.2" >600</text>
<text x="572.8" y="598.9" font-size="11" text-anchor="middle" fill="#262626" stroke="#262626" stroke-width="0.08" >1</text>
<rect x="591.7" y="569.09" width="9.4" height="17.51" fill="url(#hg22)" stroke="#2a2a2a" stroke-width="1.0" />
<text x="596.4" y="566.89" font-size="10" text-anchor="middle" fill="#262626" stroke="#262626" stroke-width="0.2" >300</text>
<text x="596.4" y="598.9" font-size="11" text-anchor="middle" fill="#262626" stroke="#262626" stroke-width="0.08" >0.5</text>
<rect x="607.8" y="569.09" width="9.4" height="17.51" fill="url(#hg23)" stroke="#2a2a2a" stroke-width="1.0" />
<text x="612.5" y="566.89" font-size="10" text-anchor="middle" fill="#262626" stroke="#262626" stroke-width="0.2" >300</text>
<text x="612.5" y="598.9" font-size="11" text-anchor="middle" fill="#262626" stroke="#262626" stroke-width="0.08" >1</text>
<rect x="624" y="582.81" width="9.4" height="3.79" fill="url(#hg24)" stroke="#2a2a2a" stroke-width="1.0" />
<text x="628.7" y="580.61" font-size="10" text-anchor="middle" fill="#262626" stroke="#262626" stroke-width="0.2" >65</text>
<text x="628.7" y="598.9" font-size="11" text-anchor="middle" fill="#262626" stroke="#262626" stroke-width="0.08" >2</text>
<rect x="647.2" y="574.93" width="9.4" height="11.67" fill="url(#hg25)" stroke="#2a2a2a" stroke-width="1.0" />
<text x="651.9" y="572.73" font-size="10" text-anchor="middle" fill="#262626" stroke="#262626" stroke-width="0.2" >200</text>
<text x="651.9" y="598.9" font-size="11" text-anchor="middle" fill="#262626" stroke="#262626" stroke-width="0.08" >1</text>
<rect x="38.1" y="481.3" width="635.4" height="105.7" fill="none" stroke="#2a2a2a" stroke-width="1.15" />
<line x1="38.1" y1="586.6" x2="41.1" y2="586.6" stroke="#2a2a2a" stroke-width="1" />
<line x1="38.1" y1="574.93" x2="40.1" y2="574.93" stroke="#2a2a2a" stroke-width="1" />
<line x1="38.1" y1="563.25" x2="41.1" y2="563.25" stroke="#2a2a2a" stroke-width="1" />
<line x1="38.1" y1="551.58" x2="40.1" y2="551.58" stroke="#2a2a2a" stroke-width="1" />
<line x1="38.1" y1="539.9" x2="41.1" y2="539.9" stroke="#2a2a2a" stroke-width="1" />
<line x1="38.1" y1="528.23" x2="40.1" y2="528.23" stroke="#2a2a2a" stroke-width="1" />
<line x1="38.1" y1="516.56" x2="41.1" y2="516.56" stroke="#2a2a2a" stroke-width="1" />
<line x1="38.1" y1="504.88" x2="40.1" y2="504.88" stroke="#2a2a2a" stroke-width="1" />
<line x1="38.1" y1="493.21" x2="41.1" y2="493.21" stroke="#2a2a2a" stroke-width="1" />
<text x="34.5" y="590.1" font-size="10" text-anchor="end" fill="#262626" stroke="#262626" stroke-width="0.2" >0</text>
<text x="34.5" y="566.75" font-size="10" text-anchor="end" fill="#262626" stroke="#262626" stroke-width="0.2" >400</text>
<text x="34.5" y="543.4" font-size="10" text-anchor="end" fill="#262626" stroke="#262626" stroke-width="0.2" >800</text>
<text x="34.5" y="520.06" font-size="10" text-anchor="end" fill="#262626" stroke="#262626" stroke-width="0.2" >1200</text>
<text x="34.5" y="496.71" font-size="10" text-anchor="end" fill="#262626" stroke="#262626" stroke-width="0.2" >1600</text>
<text x="10.3" y="533.5" font-size="11" text-anchor="middle" fill="#262626" stroke="#262626" stroke-width="0.08" transform="rotate(-90 10.3 533.5)" >Cycling Life (h)</text>
<text x="37.2" y="598.9" font-size="10.5" fill="#262626"><tspan font-style="italic">I</tspan><tspan font-size="7.5" dy="2.5">D</tspan><tspan dy="-2.5">:</tspan></text>
<text x="89.3" y="612" font-size="11" text-anchor="middle" fill="#262626" stroke="#262626" stroke-width="0.08" >This work</text>
<text x="256" y="612" font-size="11.2" text-anchor="middle" fill="#262626" stroke="#262626" stroke-width="0.08" >Mg composite anode</text>
<text x="507" y="612" font-size="11.2" text-anchor="middle" fill="#262626" stroke="#262626" stroke-width="0.08" >Li composite anode</text>
<text x="-0.5" y="486.3" font-size="20" text-anchor="start" fill="#111" stroke="#111" stroke-width="0.08" >h</text>
</svg>
</body></html>
